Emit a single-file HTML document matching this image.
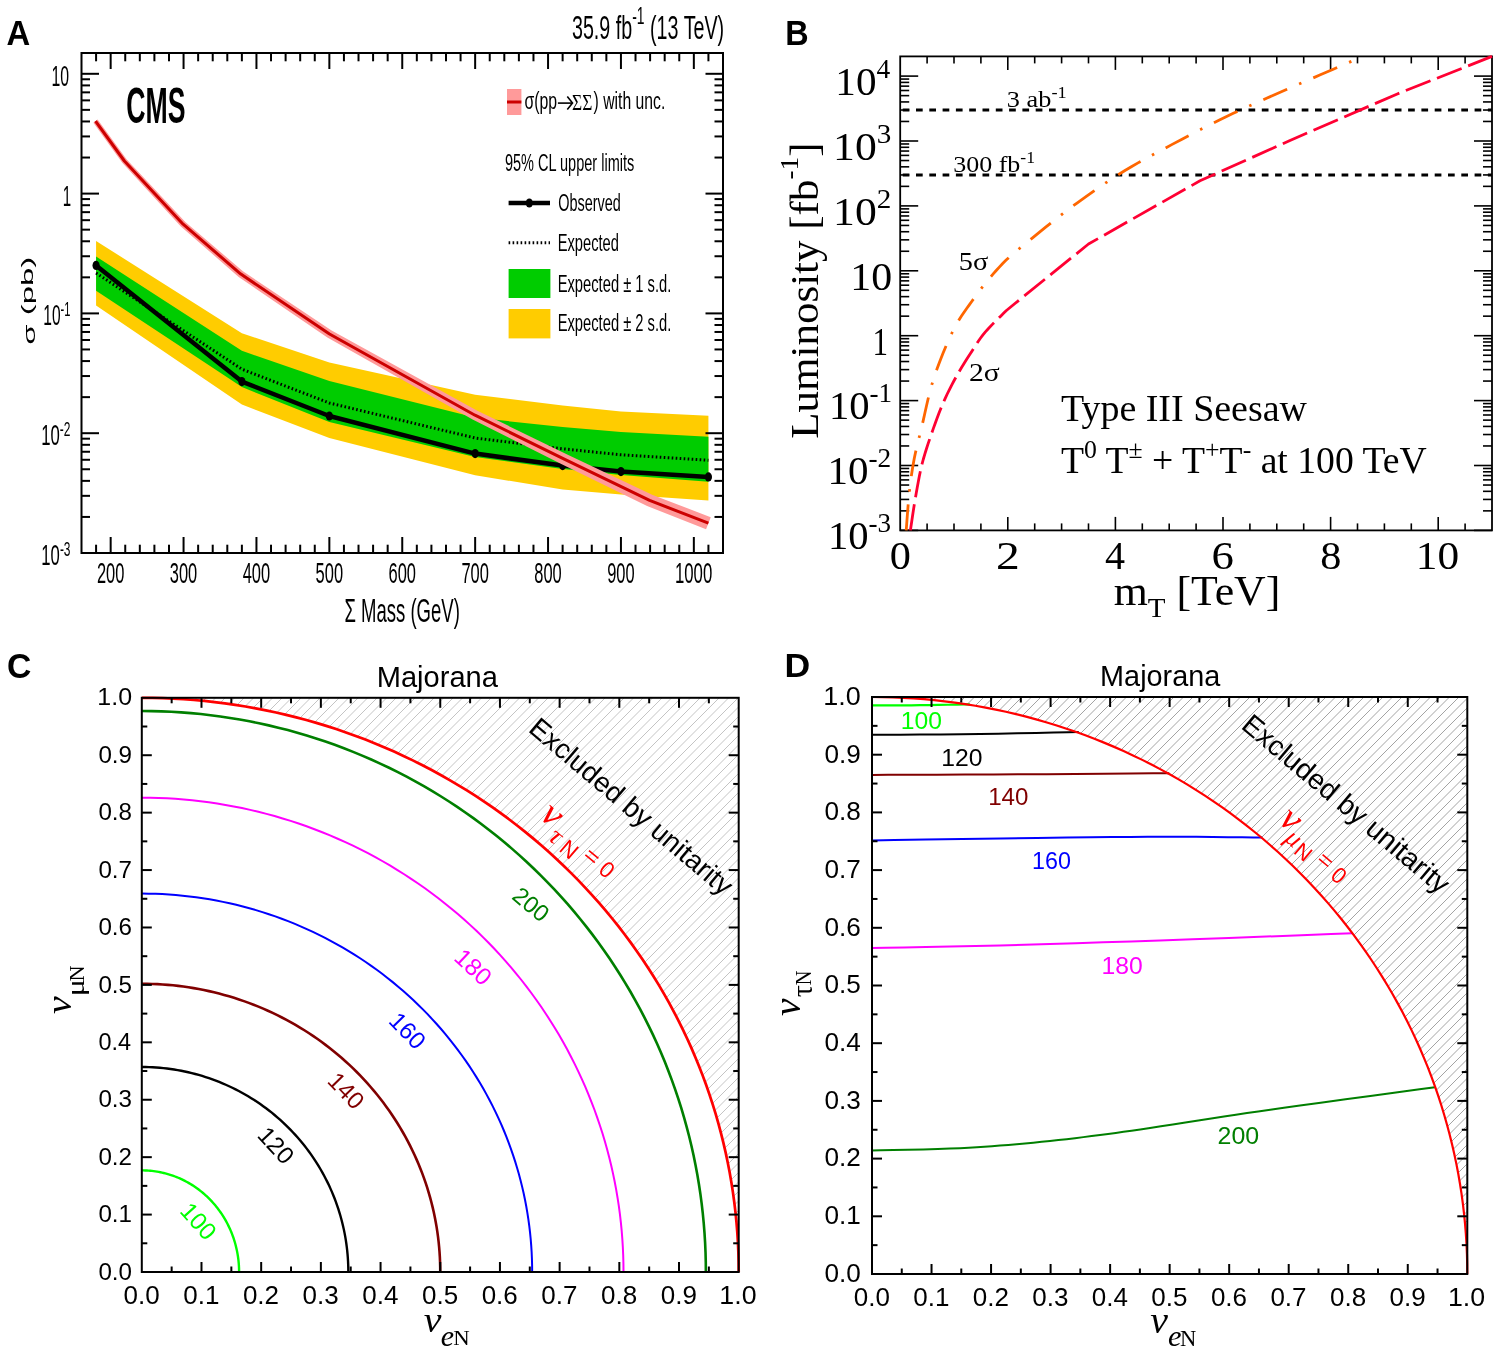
<!DOCTYPE html>
<html><head><meta charset="utf-8"><style>
html,body{margin:0;padding:0;background:#fff;width:1500px;height:1353px;overflow:hidden}
svg{display:block;will-change:transform}

</style></head><body>
<svg width="1500" height="1353" viewBox="0 0 1500 1353">
<rect x="0" y="0" width="1500" height="1353" fill="#fff"/>
<polygon points="96.08,241.00 241.88,333.20 329.35,362.40 475.15,394.80 562.62,405.60 620.94,411.60 708.42,415.70 708.42,500.40 620.94,494.40 562.62,489.60 475.15,475.20 329.35,438.00 241.88,404.50 96.08,305.50" fill="#ffcc00" stroke="none" stroke-width="0" />
<polygon points="96.08,256.40 241.88,350.80 329.35,381.00 475.15,417.60 562.62,427.00 620.94,432.00 708.42,436.80 708.42,481.70 620.94,475.00 562.62,469.00 475.15,457.00 329.35,422.00 241.88,387.10 96.08,290.80" fill="#00cc00" stroke="none" stroke-width="0" />
<polyline points="96.08,273.00 241.88,369.20 329.35,403.00 475.15,438.00 562.62,448.80 620.94,454.80 708.42,460.30" fill="none" stroke="#000" stroke-width="3" stroke-dasharray="1.6 2.4"/>
<polyline points="96.08,265.40 241.88,381.60 329.35,416.00 475.15,453.60 562.62,465.60 620.94,471.60 708.42,476.90" fill="none" stroke="#000" stroke-width="4.5" stroke-linejoin="round"/>
<ellipse cx="96.08" cy="265.40" rx="3.6" ry="4.6" fill="#000"/>
<ellipse cx="241.88" cy="381.60" rx="3.6" ry="4.6" fill="#000"/>
<ellipse cx="329.35" cy="416.00" rx="3.6" ry="4.6" fill="#000"/>
<ellipse cx="475.15" cy="453.60" rx="3.6" ry="4.6" fill="#000"/>
<ellipse cx="562.62" cy="465.60" rx="3.6" ry="4.6" fill="#000"/>
<ellipse cx="620.94" cy="471.60" rx="3.6" ry="4.6" fill="#000"/>
<ellipse cx="708.42" cy="476.90" rx="3.6" ry="4.6" fill="#000"/>
<polygon points="93.39,122.63 122.28,162.80 180.90,226.46 238.69,276.92 327.39,337.50 472.64,419.62 560.26,463.41 647.11,506.00 706.05,529.26 710.75,517.14 652.09,494.80 565.14,453.39 477.36,410.78 331.61,330.50 242.91,271.28 185.30,221.94 126.52,159.20 97.61,119.57" fill="#ff9a9a" stroke="none" stroke-width="0" />
<polyline points="95.50,121.10 124.40,161.00 183.10,224.20 240.80,274.10 329.50,334.00 475.00,415.20 562.70,458.40 649.60,500.40 708.40,523.20" fill="none" stroke="#cc0000" stroke-width="3" stroke-linejoin="round"/>
<rect x="81.50" y="53.00" width="641.50" height="500.00" fill="none" stroke="#000" stroke-width="2"/>
<line x1="96.08" y1="553.00" x2="96.08" y2="544.70" stroke="#000" stroke-width="2" />
<line x1="96.08" y1="53.00" x2="96.08" y2="61.30" stroke="#000" stroke-width="2" />
<line x1="110.66" y1="553.00" x2="110.66" y2="537.00" stroke="#000" stroke-width="2" />
<line x1="110.66" y1="53.00" x2="110.66" y2="69.00" stroke="#000" stroke-width="2" />
<line x1="125.24" y1="553.00" x2="125.24" y2="544.70" stroke="#000" stroke-width="2" />
<line x1="125.24" y1="53.00" x2="125.24" y2="61.30" stroke="#000" stroke-width="2" />
<line x1="139.82" y1="553.00" x2="139.82" y2="544.70" stroke="#000" stroke-width="2" />
<line x1="139.82" y1="53.00" x2="139.82" y2="61.30" stroke="#000" stroke-width="2" />
<line x1="154.40" y1="553.00" x2="154.40" y2="544.70" stroke="#000" stroke-width="2" />
<line x1="154.40" y1="53.00" x2="154.40" y2="61.30" stroke="#000" stroke-width="2" />
<line x1="168.98" y1="553.00" x2="168.98" y2="544.70" stroke="#000" stroke-width="2" />
<line x1="168.98" y1="53.00" x2="168.98" y2="61.30" stroke="#000" stroke-width="2" />
<line x1="183.56" y1="553.00" x2="183.56" y2="537.00" stroke="#000" stroke-width="2" />
<line x1="183.56" y1="53.00" x2="183.56" y2="69.00" stroke="#000" stroke-width="2" />
<line x1="198.14" y1="553.00" x2="198.14" y2="544.70" stroke="#000" stroke-width="2" />
<line x1="198.14" y1="53.00" x2="198.14" y2="61.30" stroke="#000" stroke-width="2" />
<line x1="212.72" y1="553.00" x2="212.72" y2="544.70" stroke="#000" stroke-width="2" />
<line x1="212.72" y1="53.00" x2="212.72" y2="61.30" stroke="#000" stroke-width="2" />
<line x1="227.30" y1="553.00" x2="227.30" y2="544.70" stroke="#000" stroke-width="2" />
<line x1="227.30" y1="53.00" x2="227.30" y2="61.30" stroke="#000" stroke-width="2" />
<line x1="241.88" y1="553.00" x2="241.88" y2="544.70" stroke="#000" stroke-width="2" />
<line x1="241.88" y1="53.00" x2="241.88" y2="61.30" stroke="#000" stroke-width="2" />
<line x1="256.45" y1="553.00" x2="256.45" y2="537.00" stroke="#000" stroke-width="2" />
<line x1="256.45" y1="53.00" x2="256.45" y2="69.00" stroke="#000" stroke-width="2" />
<line x1="271.03" y1="553.00" x2="271.03" y2="544.70" stroke="#000" stroke-width="2" />
<line x1="271.03" y1="53.00" x2="271.03" y2="61.30" stroke="#000" stroke-width="2" />
<line x1="285.61" y1="553.00" x2="285.61" y2="544.70" stroke="#000" stroke-width="2" />
<line x1="285.61" y1="53.00" x2="285.61" y2="61.30" stroke="#000" stroke-width="2" />
<line x1="300.19" y1="553.00" x2="300.19" y2="544.70" stroke="#000" stroke-width="2" />
<line x1="300.19" y1="53.00" x2="300.19" y2="61.30" stroke="#000" stroke-width="2" />
<line x1="314.77" y1="553.00" x2="314.77" y2="544.70" stroke="#000" stroke-width="2" />
<line x1="314.77" y1="53.00" x2="314.77" y2="61.30" stroke="#000" stroke-width="2" />
<line x1="329.35" y1="553.00" x2="329.35" y2="537.00" stroke="#000" stroke-width="2" />
<line x1="329.35" y1="53.00" x2="329.35" y2="69.00" stroke="#000" stroke-width="2" />
<line x1="343.93" y1="553.00" x2="343.93" y2="544.70" stroke="#000" stroke-width="2" />
<line x1="343.93" y1="53.00" x2="343.93" y2="61.30" stroke="#000" stroke-width="2" />
<line x1="358.51" y1="553.00" x2="358.51" y2="544.70" stroke="#000" stroke-width="2" />
<line x1="358.51" y1="53.00" x2="358.51" y2="61.30" stroke="#000" stroke-width="2" />
<line x1="373.09" y1="553.00" x2="373.09" y2="544.70" stroke="#000" stroke-width="2" />
<line x1="373.09" y1="53.00" x2="373.09" y2="61.30" stroke="#000" stroke-width="2" />
<line x1="387.67" y1="553.00" x2="387.67" y2="544.70" stroke="#000" stroke-width="2" />
<line x1="387.67" y1="53.00" x2="387.67" y2="61.30" stroke="#000" stroke-width="2" />
<line x1="402.25" y1="553.00" x2="402.25" y2="537.00" stroke="#000" stroke-width="2" />
<line x1="402.25" y1="53.00" x2="402.25" y2="69.00" stroke="#000" stroke-width="2" />
<line x1="416.83" y1="553.00" x2="416.83" y2="544.70" stroke="#000" stroke-width="2" />
<line x1="416.83" y1="53.00" x2="416.83" y2="61.30" stroke="#000" stroke-width="2" />
<line x1="431.41" y1="553.00" x2="431.41" y2="544.70" stroke="#000" stroke-width="2" />
<line x1="431.41" y1="53.00" x2="431.41" y2="61.30" stroke="#000" stroke-width="2" />
<line x1="445.99" y1="553.00" x2="445.99" y2="544.70" stroke="#000" stroke-width="2" />
<line x1="445.99" y1="53.00" x2="445.99" y2="61.30" stroke="#000" stroke-width="2" />
<line x1="460.57" y1="553.00" x2="460.57" y2="544.70" stroke="#000" stroke-width="2" />
<line x1="460.57" y1="53.00" x2="460.57" y2="61.30" stroke="#000" stroke-width="2" />
<line x1="475.15" y1="553.00" x2="475.15" y2="537.00" stroke="#000" stroke-width="2" />
<line x1="475.15" y1="53.00" x2="475.15" y2="69.00" stroke="#000" stroke-width="2" />
<line x1="489.73" y1="553.00" x2="489.73" y2="544.70" stroke="#000" stroke-width="2" />
<line x1="489.73" y1="53.00" x2="489.73" y2="61.30" stroke="#000" stroke-width="2" />
<line x1="504.31" y1="553.00" x2="504.31" y2="544.70" stroke="#000" stroke-width="2" />
<line x1="504.31" y1="53.00" x2="504.31" y2="61.30" stroke="#000" stroke-width="2" />
<line x1="518.89" y1="553.00" x2="518.89" y2="544.70" stroke="#000" stroke-width="2" />
<line x1="518.89" y1="53.00" x2="518.89" y2="61.30" stroke="#000" stroke-width="2" />
<line x1="533.47" y1="553.00" x2="533.47" y2="544.70" stroke="#000" stroke-width="2" />
<line x1="533.47" y1="53.00" x2="533.47" y2="61.30" stroke="#000" stroke-width="2" />
<line x1="548.05" y1="553.00" x2="548.05" y2="537.00" stroke="#000" stroke-width="2" />
<line x1="548.05" y1="53.00" x2="548.05" y2="69.00" stroke="#000" stroke-width="2" />
<line x1="562.62" y1="553.00" x2="562.62" y2="544.70" stroke="#000" stroke-width="2" />
<line x1="562.62" y1="53.00" x2="562.62" y2="61.30" stroke="#000" stroke-width="2" />
<line x1="577.20" y1="553.00" x2="577.20" y2="544.70" stroke="#000" stroke-width="2" />
<line x1="577.20" y1="53.00" x2="577.20" y2="61.30" stroke="#000" stroke-width="2" />
<line x1="591.78" y1="553.00" x2="591.78" y2="544.70" stroke="#000" stroke-width="2" />
<line x1="591.78" y1="53.00" x2="591.78" y2="61.30" stroke="#000" stroke-width="2" />
<line x1="606.36" y1="553.00" x2="606.36" y2="544.70" stroke="#000" stroke-width="2" />
<line x1="606.36" y1="53.00" x2="606.36" y2="61.30" stroke="#000" stroke-width="2" />
<line x1="620.94" y1="553.00" x2="620.94" y2="537.00" stroke="#000" stroke-width="2" />
<line x1="620.94" y1="53.00" x2="620.94" y2="69.00" stroke="#000" stroke-width="2" />
<line x1="635.52" y1="553.00" x2="635.52" y2="544.70" stroke="#000" stroke-width="2" />
<line x1="635.52" y1="53.00" x2="635.52" y2="61.30" stroke="#000" stroke-width="2" />
<line x1="650.10" y1="553.00" x2="650.10" y2="544.70" stroke="#000" stroke-width="2" />
<line x1="650.10" y1="53.00" x2="650.10" y2="61.30" stroke="#000" stroke-width="2" />
<line x1="664.68" y1="553.00" x2="664.68" y2="544.70" stroke="#000" stroke-width="2" />
<line x1="664.68" y1="53.00" x2="664.68" y2="61.30" stroke="#000" stroke-width="2" />
<line x1="679.26" y1="553.00" x2="679.26" y2="544.70" stroke="#000" stroke-width="2" />
<line x1="679.26" y1="53.00" x2="679.26" y2="61.30" stroke="#000" stroke-width="2" />
<line x1="693.84" y1="553.00" x2="693.84" y2="537.00" stroke="#000" stroke-width="2" />
<line x1="693.84" y1="53.00" x2="693.84" y2="69.00" stroke="#000" stroke-width="2" />
<line x1="708.42" y1="553.00" x2="708.42" y2="544.70" stroke="#000" stroke-width="2" />
<line x1="708.42" y1="53.00" x2="708.42" y2="61.30" stroke="#000" stroke-width="2" />
<line x1="81.50" y1="516.94" x2="90.00" y2="516.94" stroke="#000" stroke-width="2" />
<line x1="723.00" y1="516.94" x2="714.50" y2="516.94" stroke="#000" stroke-width="2" />
<line x1="81.50" y1="495.84" x2="90.00" y2="495.84" stroke="#000" stroke-width="2" />
<line x1="723.00" y1="495.84" x2="714.50" y2="495.84" stroke="#000" stroke-width="2" />
<line x1="81.50" y1="480.87" x2="90.00" y2="480.87" stroke="#000" stroke-width="2" />
<line x1="723.00" y1="480.87" x2="714.50" y2="480.87" stroke="#000" stroke-width="2" />
<line x1="81.50" y1="469.26" x2="90.00" y2="469.26" stroke="#000" stroke-width="2" />
<line x1="723.00" y1="469.26" x2="714.50" y2="469.26" stroke="#000" stroke-width="2" />
<line x1="81.50" y1="459.78" x2="90.00" y2="459.78" stroke="#000" stroke-width="2" />
<line x1="723.00" y1="459.78" x2="714.50" y2="459.78" stroke="#000" stroke-width="2" />
<line x1="81.50" y1="451.76" x2="90.00" y2="451.76" stroke="#000" stroke-width="2" />
<line x1="723.00" y1="451.76" x2="714.50" y2="451.76" stroke="#000" stroke-width="2" />
<line x1="81.50" y1="444.81" x2="90.00" y2="444.81" stroke="#000" stroke-width="2" />
<line x1="723.00" y1="444.81" x2="714.50" y2="444.81" stroke="#000" stroke-width="2" />
<line x1="81.50" y1="438.68" x2="90.00" y2="438.68" stroke="#000" stroke-width="2" />
<line x1="723.00" y1="438.68" x2="714.50" y2="438.68" stroke="#000" stroke-width="2" />
<line x1="81.50" y1="433.20" x2="99.00" y2="433.20" stroke="#000" stroke-width="2" />
<line x1="723.00" y1="433.20" x2="705.50" y2="433.20" stroke="#000" stroke-width="2" />
<line x1="81.50" y1="397.14" x2="90.00" y2="397.14" stroke="#000" stroke-width="2" />
<line x1="723.00" y1="397.14" x2="714.50" y2="397.14" stroke="#000" stroke-width="2" />
<line x1="81.50" y1="376.04" x2="90.00" y2="376.04" stroke="#000" stroke-width="2" />
<line x1="723.00" y1="376.04" x2="714.50" y2="376.04" stroke="#000" stroke-width="2" />
<line x1="81.50" y1="361.07" x2="90.00" y2="361.07" stroke="#000" stroke-width="2" />
<line x1="723.00" y1="361.07" x2="714.50" y2="361.07" stroke="#000" stroke-width="2" />
<line x1="81.50" y1="349.46" x2="90.00" y2="349.46" stroke="#000" stroke-width="2" />
<line x1="723.00" y1="349.46" x2="714.50" y2="349.46" stroke="#000" stroke-width="2" />
<line x1="81.50" y1="339.98" x2="90.00" y2="339.98" stroke="#000" stroke-width="2" />
<line x1="723.00" y1="339.98" x2="714.50" y2="339.98" stroke="#000" stroke-width="2" />
<line x1="81.50" y1="331.96" x2="90.00" y2="331.96" stroke="#000" stroke-width="2" />
<line x1="723.00" y1="331.96" x2="714.50" y2="331.96" stroke="#000" stroke-width="2" />
<line x1="81.50" y1="325.01" x2="90.00" y2="325.01" stroke="#000" stroke-width="2" />
<line x1="723.00" y1="325.01" x2="714.50" y2="325.01" stroke="#000" stroke-width="2" />
<line x1="81.50" y1="318.88" x2="90.00" y2="318.88" stroke="#000" stroke-width="2" />
<line x1="723.00" y1="318.88" x2="714.50" y2="318.88" stroke="#000" stroke-width="2" />
<line x1="81.50" y1="313.40" x2="99.00" y2="313.40" stroke="#000" stroke-width="2" />
<line x1="723.00" y1="313.40" x2="705.50" y2="313.40" stroke="#000" stroke-width="2" />
<line x1="81.50" y1="277.34" x2="90.00" y2="277.34" stroke="#000" stroke-width="2" />
<line x1="723.00" y1="277.34" x2="714.50" y2="277.34" stroke="#000" stroke-width="2" />
<line x1="81.50" y1="256.24" x2="90.00" y2="256.24" stroke="#000" stroke-width="2" />
<line x1="723.00" y1="256.24" x2="714.50" y2="256.24" stroke="#000" stroke-width="2" />
<line x1="81.50" y1="241.27" x2="90.00" y2="241.27" stroke="#000" stroke-width="2" />
<line x1="723.00" y1="241.27" x2="714.50" y2="241.27" stroke="#000" stroke-width="2" />
<line x1="81.50" y1="229.66" x2="90.00" y2="229.66" stroke="#000" stroke-width="2" />
<line x1="723.00" y1="229.66" x2="714.50" y2="229.66" stroke="#000" stroke-width="2" />
<line x1="81.50" y1="220.18" x2="90.00" y2="220.18" stroke="#000" stroke-width="2" />
<line x1="723.00" y1="220.18" x2="714.50" y2="220.18" stroke="#000" stroke-width="2" />
<line x1="81.50" y1="212.16" x2="90.00" y2="212.16" stroke="#000" stroke-width="2" />
<line x1="723.00" y1="212.16" x2="714.50" y2="212.16" stroke="#000" stroke-width="2" />
<line x1="81.50" y1="205.21" x2="90.00" y2="205.21" stroke="#000" stroke-width="2" />
<line x1="723.00" y1="205.21" x2="714.50" y2="205.21" stroke="#000" stroke-width="2" />
<line x1="81.50" y1="199.08" x2="90.00" y2="199.08" stroke="#000" stroke-width="2" />
<line x1="723.00" y1="199.08" x2="714.50" y2="199.08" stroke="#000" stroke-width="2" />
<line x1="81.50" y1="193.60" x2="99.00" y2="193.60" stroke="#000" stroke-width="2" />
<line x1="723.00" y1="193.60" x2="705.50" y2="193.60" stroke="#000" stroke-width="2" />
<line x1="81.50" y1="157.54" x2="90.00" y2="157.54" stroke="#000" stroke-width="2" />
<line x1="723.00" y1="157.54" x2="714.50" y2="157.54" stroke="#000" stroke-width="2" />
<line x1="81.50" y1="136.44" x2="90.00" y2="136.44" stroke="#000" stroke-width="2" />
<line x1="723.00" y1="136.44" x2="714.50" y2="136.44" stroke="#000" stroke-width="2" />
<line x1="81.50" y1="121.47" x2="90.00" y2="121.47" stroke="#000" stroke-width="2" />
<line x1="723.00" y1="121.47" x2="714.50" y2="121.47" stroke="#000" stroke-width="2" />
<line x1="81.50" y1="109.86" x2="90.00" y2="109.86" stroke="#000" stroke-width="2" />
<line x1="723.00" y1="109.86" x2="714.50" y2="109.86" stroke="#000" stroke-width="2" />
<line x1="81.50" y1="100.38" x2="90.00" y2="100.38" stroke="#000" stroke-width="2" />
<line x1="723.00" y1="100.38" x2="714.50" y2="100.38" stroke="#000" stroke-width="2" />
<line x1="81.50" y1="92.36" x2="90.00" y2="92.36" stroke="#000" stroke-width="2" />
<line x1="723.00" y1="92.36" x2="714.50" y2="92.36" stroke="#000" stroke-width="2" />
<line x1="81.50" y1="85.41" x2="90.00" y2="85.41" stroke="#000" stroke-width="2" />
<line x1="723.00" y1="85.41" x2="714.50" y2="85.41" stroke="#000" stroke-width="2" />
<line x1="81.50" y1="79.28" x2="90.00" y2="79.28" stroke="#000" stroke-width="2" />
<line x1="723.00" y1="79.28" x2="714.50" y2="79.28" stroke="#000" stroke-width="2" />
<line x1="81.50" y1="73.80" x2="99.00" y2="73.80" stroke="#000" stroke-width="2" />
<line x1="723.00" y1="73.80" x2="705.50" y2="73.80" stroke="#000" stroke-width="2" />
<rect x="507" y="89" width="14.4" height="26" fill="#ff9a9a"/>
<line x1="507.00" y1="102.00" x2="521.40" y2="102.00" stroke="#cc0000" stroke-width="3" />
<line x1="508.60" y1="203.00" x2="550.00" y2="203.00" stroke="#000" stroke-width="4.5" />
<ellipse cx="529.3" cy="203" rx="3.6" ry="4.6" fill="#000"/>
<line x1="508.60" y1="242.80" x2="550.00" y2="242.80" stroke="#000" stroke-width="3" stroke-dasharray="1.6 2.4"/>
<rect x="508.6" y="269" width="41.8" height="29" fill="#00cc00"/>
<rect x="508.6" y="309" width="41.8" height="29.4" fill="#ffcc00"/>
<line x1="557.90" y1="103.10" x2="572.00" y2="103.10" stroke="#000" stroke-width="1.6" />
<path d="M567.3,96.6 L572.5,103.1 L567.3,109.6" fill="none" stroke="#000" stroke-width="1.6" stroke-linejoin="miter"/>
<rect x="900.20" y="56.40" width="591.80" height="474.00" fill="none" stroke="#000" stroke-width="1.8"/>
<line x1="927.10" y1="530.40" x2="927.10" y2="523.40" stroke="#000" stroke-width="1.6" />
<line x1="927.10" y1="56.40" x2="927.10" y2="63.40" stroke="#000" stroke-width="1.6" />
<line x1="954.00" y1="530.40" x2="954.00" y2="523.40" stroke="#000" stroke-width="1.6" />
<line x1="954.00" y1="56.40" x2="954.00" y2="63.40" stroke="#000" stroke-width="1.6" />
<line x1="980.90" y1="530.40" x2="980.90" y2="523.40" stroke="#000" stroke-width="1.6" />
<line x1="980.90" y1="56.40" x2="980.90" y2="63.40" stroke="#000" stroke-width="1.6" />
<line x1="1007.80" y1="530.40" x2="1007.80" y2="516.90" stroke="#000" stroke-width="1.6" />
<line x1="1007.80" y1="56.40" x2="1007.80" y2="69.90" stroke="#000" stroke-width="1.6" />
<line x1="1034.70" y1="530.40" x2="1034.70" y2="523.40" stroke="#000" stroke-width="1.6" />
<line x1="1034.70" y1="56.40" x2="1034.70" y2="63.40" stroke="#000" stroke-width="1.6" />
<line x1="1061.60" y1="530.40" x2="1061.60" y2="523.40" stroke="#000" stroke-width="1.6" />
<line x1="1061.60" y1="56.40" x2="1061.60" y2="63.40" stroke="#000" stroke-width="1.6" />
<line x1="1088.50" y1="530.40" x2="1088.50" y2="523.40" stroke="#000" stroke-width="1.6" />
<line x1="1088.50" y1="56.40" x2="1088.50" y2="63.40" stroke="#000" stroke-width="1.6" />
<line x1="1115.40" y1="530.40" x2="1115.40" y2="516.90" stroke="#000" stroke-width="1.6" />
<line x1="1115.40" y1="56.40" x2="1115.40" y2="69.90" stroke="#000" stroke-width="1.6" />
<line x1="1142.30" y1="530.40" x2="1142.30" y2="523.40" stroke="#000" stroke-width="1.6" />
<line x1="1142.30" y1="56.40" x2="1142.30" y2="63.40" stroke="#000" stroke-width="1.6" />
<line x1="1169.20" y1="530.40" x2="1169.20" y2="523.40" stroke="#000" stroke-width="1.6" />
<line x1="1169.20" y1="56.40" x2="1169.20" y2="63.40" stroke="#000" stroke-width="1.6" />
<line x1="1196.10" y1="530.40" x2="1196.10" y2="523.40" stroke="#000" stroke-width="1.6" />
<line x1="1196.10" y1="56.40" x2="1196.10" y2="63.40" stroke="#000" stroke-width="1.6" />
<line x1="1223.00" y1="530.40" x2="1223.00" y2="516.90" stroke="#000" stroke-width="1.6" />
<line x1="1223.00" y1="56.40" x2="1223.00" y2="69.90" stroke="#000" stroke-width="1.6" />
<line x1="1249.90" y1="530.40" x2="1249.90" y2="523.40" stroke="#000" stroke-width="1.6" />
<line x1="1249.90" y1="56.40" x2="1249.90" y2="63.40" stroke="#000" stroke-width="1.6" />
<line x1="1276.80" y1="530.40" x2="1276.80" y2="523.40" stroke="#000" stroke-width="1.6" />
<line x1="1276.80" y1="56.40" x2="1276.80" y2="63.40" stroke="#000" stroke-width="1.6" />
<line x1="1303.70" y1="530.40" x2="1303.70" y2="523.40" stroke="#000" stroke-width="1.6" />
<line x1="1303.70" y1="56.40" x2="1303.70" y2="63.40" stroke="#000" stroke-width="1.6" />
<line x1="1330.60" y1="530.40" x2="1330.60" y2="516.90" stroke="#000" stroke-width="1.6" />
<line x1="1330.60" y1="56.40" x2="1330.60" y2="69.90" stroke="#000" stroke-width="1.6" />
<line x1="1357.50" y1="530.40" x2="1357.50" y2="523.40" stroke="#000" stroke-width="1.6" />
<line x1="1357.50" y1="56.40" x2="1357.50" y2="63.40" stroke="#000" stroke-width="1.6" />
<line x1="1384.40" y1="530.40" x2="1384.40" y2="523.40" stroke="#000" stroke-width="1.6" />
<line x1="1384.40" y1="56.40" x2="1384.40" y2="63.40" stroke="#000" stroke-width="1.6" />
<line x1="1411.30" y1="530.40" x2="1411.30" y2="523.40" stroke="#000" stroke-width="1.6" />
<line x1="1411.30" y1="56.40" x2="1411.30" y2="63.40" stroke="#000" stroke-width="1.6" />
<line x1="1438.20" y1="530.40" x2="1438.20" y2="516.90" stroke="#000" stroke-width="1.6" />
<line x1="1438.20" y1="56.40" x2="1438.20" y2="69.90" stroke="#000" stroke-width="1.6" />
<line x1="1465.10" y1="530.40" x2="1465.10" y2="523.40" stroke="#000" stroke-width="1.6" />
<line x1="1465.10" y1="56.40" x2="1465.10" y2="63.40" stroke="#000" stroke-width="1.6" />
<line x1="900.20" y1="530.40" x2="918.20" y2="530.40" stroke="#000" stroke-width="1.6" />
<line x1="1492.00" y1="530.40" x2="1474.00" y2="530.40" stroke="#000" stroke-width="1.6" />
<line x1="900.20" y1="510.86" x2="909.20" y2="510.86" stroke="#000" stroke-width="1.6" />
<line x1="1492.00" y1="510.86" x2="1483.00" y2="510.86" stroke="#000" stroke-width="1.6" />
<line x1="900.20" y1="499.43" x2="909.20" y2="499.43" stroke="#000" stroke-width="1.6" />
<line x1="1492.00" y1="499.43" x2="1483.00" y2="499.43" stroke="#000" stroke-width="1.6" />
<line x1="900.20" y1="491.33" x2="909.20" y2="491.33" stroke="#000" stroke-width="1.6" />
<line x1="1492.00" y1="491.33" x2="1483.00" y2="491.33" stroke="#000" stroke-width="1.6" />
<line x1="900.20" y1="485.04" x2="909.20" y2="485.04" stroke="#000" stroke-width="1.6" />
<line x1="1492.00" y1="485.04" x2="1483.00" y2="485.04" stroke="#000" stroke-width="1.6" />
<line x1="900.20" y1="479.90" x2="909.20" y2="479.90" stroke="#000" stroke-width="1.6" />
<line x1="1492.00" y1="479.90" x2="1483.00" y2="479.90" stroke="#000" stroke-width="1.6" />
<line x1="900.20" y1="475.55" x2="909.20" y2="475.55" stroke="#000" stroke-width="1.6" />
<line x1="1492.00" y1="475.55" x2="1483.00" y2="475.55" stroke="#000" stroke-width="1.6" />
<line x1="900.20" y1="471.79" x2="909.20" y2="471.79" stroke="#000" stroke-width="1.6" />
<line x1="1492.00" y1="471.79" x2="1483.00" y2="471.79" stroke="#000" stroke-width="1.6" />
<line x1="900.20" y1="468.47" x2="909.20" y2="468.47" stroke="#000" stroke-width="1.6" />
<line x1="1492.00" y1="468.47" x2="1483.00" y2="468.47" stroke="#000" stroke-width="1.6" />
<line x1="900.20" y1="465.50" x2="918.20" y2="465.50" stroke="#000" stroke-width="1.6" />
<line x1="1492.00" y1="465.50" x2="1474.00" y2="465.50" stroke="#000" stroke-width="1.6" />
<line x1="900.20" y1="445.96" x2="909.20" y2="445.96" stroke="#000" stroke-width="1.6" />
<line x1="1492.00" y1="445.96" x2="1483.00" y2="445.96" stroke="#000" stroke-width="1.6" />
<line x1="900.20" y1="434.53" x2="909.20" y2="434.53" stroke="#000" stroke-width="1.6" />
<line x1="1492.00" y1="434.53" x2="1483.00" y2="434.53" stroke="#000" stroke-width="1.6" />
<line x1="900.20" y1="426.43" x2="909.20" y2="426.43" stroke="#000" stroke-width="1.6" />
<line x1="1492.00" y1="426.43" x2="1483.00" y2="426.43" stroke="#000" stroke-width="1.6" />
<line x1="900.20" y1="420.14" x2="909.20" y2="420.14" stroke="#000" stroke-width="1.6" />
<line x1="1492.00" y1="420.14" x2="1483.00" y2="420.14" stroke="#000" stroke-width="1.6" />
<line x1="900.20" y1="415.00" x2="909.20" y2="415.00" stroke="#000" stroke-width="1.6" />
<line x1="1492.00" y1="415.00" x2="1483.00" y2="415.00" stroke="#000" stroke-width="1.6" />
<line x1="900.20" y1="410.65" x2="909.20" y2="410.65" stroke="#000" stroke-width="1.6" />
<line x1="1492.00" y1="410.65" x2="1483.00" y2="410.65" stroke="#000" stroke-width="1.6" />
<line x1="900.20" y1="406.89" x2="909.20" y2="406.89" stroke="#000" stroke-width="1.6" />
<line x1="1492.00" y1="406.89" x2="1483.00" y2="406.89" stroke="#000" stroke-width="1.6" />
<line x1="900.20" y1="403.57" x2="909.20" y2="403.57" stroke="#000" stroke-width="1.6" />
<line x1="1492.00" y1="403.57" x2="1483.00" y2="403.57" stroke="#000" stroke-width="1.6" />
<line x1="900.20" y1="400.60" x2="918.20" y2="400.60" stroke="#000" stroke-width="1.6" />
<line x1="1492.00" y1="400.60" x2="1474.00" y2="400.60" stroke="#000" stroke-width="1.6" />
<line x1="900.20" y1="381.06" x2="909.20" y2="381.06" stroke="#000" stroke-width="1.6" />
<line x1="1492.00" y1="381.06" x2="1483.00" y2="381.06" stroke="#000" stroke-width="1.6" />
<line x1="900.20" y1="369.63" x2="909.20" y2="369.63" stroke="#000" stroke-width="1.6" />
<line x1="1492.00" y1="369.63" x2="1483.00" y2="369.63" stroke="#000" stroke-width="1.6" />
<line x1="900.20" y1="361.53" x2="909.20" y2="361.53" stroke="#000" stroke-width="1.6" />
<line x1="1492.00" y1="361.53" x2="1483.00" y2="361.53" stroke="#000" stroke-width="1.6" />
<line x1="900.20" y1="355.24" x2="909.20" y2="355.24" stroke="#000" stroke-width="1.6" />
<line x1="1492.00" y1="355.24" x2="1483.00" y2="355.24" stroke="#000" stroke-width="1.6" />
<line x1="900.20" y1="350.10" x2="909.20" y2="350.10" stroke="#000" stroke-width="1.6" />
<line x1="1492.00" y1="350.10" x2="1483.00" y2="350.10" stroke="#000" stroke-width="1.6" />
<line x1="900.20" y1="345.75" x2="909.20" y2="345.75" stroke="#000" stroke-width="1.6" />
<line x1="1492.00" y1="345.75" x2="1483.00" y2="345.75" stroke="#000" stroke-width="1.6" />
<line x1="900.20" y1="341.99" x2="909.20" y2="341.99" stroke="#000" stroke-width="1.6" />
<line x1="1492.00" y1="341.99" x2="1483.00" y2="341.99" stroke="#000" stroke-width="1.6" />
<line x1="900.20" y1="338.67" x2="909.20" y2="338.67" stroke="#000" stroke-width="1.6" />
<line x1="1492.00" y1="338.67" x2="1483.00" y2="338.67" stroke="#000" stroke-width="1.6" />
<line x1="900.20" y1="335.70" x2="918.20" y2="335.70" stroke="#000" stroke-width="1.6" />
<line x1="1492.00" y1="335.70" x2="1474.00" y2="335.70" stroke="#000" stroke-width="1.6" />
<line x1="900.20" y1="316.16" x2="909.20" y2="316.16" stroke="#000" stroke-width="1.6" />
<line x1="1492.00" y1="316.16" x2="1483.00" y2="316.16" stroke="#000" stroke-width="1.6" />
<line x1="900.20" y1="304.73" x2="909.20" y2="304.73" stroke="#000" stroke-width="1.6" />
<line x1="1492.00" y1="304.73" x2="1483.00" y2="304.73" stroke="#000" stroke-width="1.6" />
<line x1="900.20" y1="296.63" x2="909.20" y2="296.63" stroke="#000" stroke-width="1.6" />
<line x1="1492.00" y1="296.63" x2="1483.00" y2="296.63" stroke="#000" stroke-width="1.6" />
<line x1="900.20" y1="290.34" x2="909.20" y2="290.34" stroke="#000" stroke-width="1.6" />
<line x1="1492.00" y1="290.34" x2="1483.00" y2="290.34" stroke="#000" stroke-width="1.6" />
<line x1="900.20" y1="285.20" x2="909.20" y2="285.20" stroke="#000" stroke-width="1.6" />
<line x1="1492.00" y1="285.20" x2="1483.00" y2="285.20" stroke="#000" stroke-width="1.6" />
<line x1="900.20" y1="280.85" x2="909.20" y2="280.85" stroke="#000" stroke-width="1.6" />
<line x1="1492.00" y1="280.85" x2="1483.00" y2="280.85" stroke="#000" stroke-width="1.6" />
<line x1="900.20" y1="277.09" x2="909.20" y2="277.09" stroke="#000" stroke-width="1.6" />
<line x1="1492.00" y1="277.09" x2="1483.00" y2="277.09" stroke="#000" stroke-width="1.6" />
<line x1="900.20" y1="273.77" x2="909.20" y2="273.77" stroke="#000" stroke-width="1.6" />
<line x1="1492.00" y1="273.77" x2="1483.00" y2="273.77" stroke="#000" stroke-width="1.6" />
<line x1="900.20" y1="270.80" x2="918.20" y2="270.80" stroke="#000" stroke-width="1.6" />
<line x1="1492.00" y1="270.80" x2="1474.00" y2="270.80" stroke="#000" stroke-width="1.6" />
<line x1="900.20" y1="251.26" x2="909.20" y2="251.26" stroke="#000" stroke-width="1.6" />
<line x1="1492.00" y1="251.26" x2="1483.00" y2="251.26" stroke="#000" stroke-width="1.6" />
<line x1="900.20" y1="239.83" x2="909.20" y2="239.83" stroke="#000" stroke-width="1.6" />
<line x1="1492.00" y1="239.83" x2="1483.00" y2="239.83" stroke="#000" stroke-width="1.6" />
<line x1="900.20" y1="231.73" x2="909.20" y2="231.73" stroke="#000" stroke-width="1.6" />
<line x1="1492.00" y1="231.73" x2="1483.00" y2="231.73" stroke="#000" stroke-width="1.6" />
<line x1="900.20" y1="225.44" x2="909.20" y2="225.44" stroke="#000" stroke-width="1.6" />
<line x1="1492.00" y1="225.44" x2="1483.00" y2="225.44" stroke="#000" stroke-width="1.6" />
<line x1="900.20" y1="220.30" x2="909.20" y2="220.30" stroke="#000" stroke-width="1.6" />
<line x1="1492.00" y1="220.30" x2="1483.00" y2="220.30" stroke="#000" stroke-width="1.6" />
<line x1="900.20" y1="215.95" x2="909.20" y2="215.95" stroke="#000" stroke-width="1.6" />
<line x1="1492.00" y1="215.95" x2="1483.00" y2="215.95" stroke="#000" stroke-width="1.6" />
<line x1="900.20" y1="212.19" x2="909.20" y2="212.19" stroke="#000" stroke-width="1.6" />
<line x1="1492.00" y1="212.19" x2="1483.00" y2="212.19" stroke="#000" stroke-width="1.6" />
<line x1="900.20" y1="208.87" x2="909.20" y2="208.87" stroke="#000" stroke-width="1.6" />
<line x1="1492.00" y1="208.87" x2="1483.00" y2="208.87" stroke="#000" stroke-width="1.6" />
<line x1="900.20" y1="205.90" x2="918.20" y2="205.90" stroke="#000" stroke-width="1.6" />
<line x1="1492.00" y1="205.90" x2="1474.00" y2="205.90" stroke="#000" stroke-width="1.6" />
<line x1="900.20" y1="186.36" x2="909.20" y2="186.36" stroke="#000" stroke-width="1.6" />
<line x1="1492.00" y1="186.36" x2="1483.00" y2="186.36" stroke="#000" stroke-width="1.6" />
<line x1="900.20" y1="174.93" x2="909.20" y2="174.93" stroke="#000" stroke-width="1.6" />
<line x1="1492.00" y1="174.93" x2="1483.00" y2="174.93" stroke="#000" stroke-width="1.6" />
<line x1="900.20" y1="166.83" x2="909.20" y2="166.83" stroke="#000" stroke-width="1.6" />
<line x1="1492.00" y1="166.83" x2="1483.00" y2="166.83" stroke="#000" stroke-width="1.6" />
<line x1="900.20" y1="160.54" x2="909.20" y2="160.54" stroke="#000" stroke-width="1.6" />
<line x1="1492.00" y1="160.54" x2="1483.00" y2="160.54" stroke="#000" stroke-width="1.6" />
<line x1="900.20" y1="155.40" x2="909.20" y2="155.40" stroke="#000" stroke-width="1.6" />
<line x1="1492.00" y1="155.40" x2="1483.00" y2="155.40" stroke="#000" stroke-width="1.6" />
<line x1="900.20" y1="151.05" x2="909.20" y2="151.05" stroke="#000" stroke-width="1.6" />
<line x1="1492.00" y1="151.05" x2="1483.00" y2="151.05" stroke="#000" stroke-width="1.6" />
<line x1="900.20" y1="147.29" x2="909.20" y2="147.29" stroke="#000" stroke-width="1.6" />
<line x1="1492.00" y1="147.29" x2="1483.00" y2="147.29" stroke="#000" stroke-width="1.6" />
<line x1="900.20" y1="143.97" x2="909.20" y2="143.97" stroke="#000" stroke-width="1.6" />
<line x1="1492.00" y1="143.97" x2="1483.00" y2="143.97" stroke="#000" stroke-width="1.6" />
<line x1="900.20" y1="141.00" x2="918.20" y2="141.00" stroke="#000" stroke-width="1.6" />
<line x1="1492.00" y1="141.00" x2="1474.00" y2="141.00" stroke="#000" stroke-width="1.6" />
<line x1="900.20" y1="121.46" x2="909.20" y2="121.46" stroke="#000" stroke-width="1.6" />
<line x1="1492.00" y1="121.46" x2="1483.00" y2="121.46" stroke="#000" stroke-width="1.6" />
<line x1="900.20" y1="110.03" x2="909.20" y2="110.03" stroke="#000" stroke-width="1.6" />
<line x1="1492.00" y1="110.03" x2="1483.00" y2="110.03" stroke="#000" stroke-width="1.6" />
<line x1="900.20" y1="101.93" x2="909.20" y2="101.93" stroke="#000" stroke-width="1.6" />
<line x1="1492.00" y1="101.93" x2="1483.00" y2="101.93" stroke="#000" stroke-width="1.6" />
<line x1="900.20" y1="95.64" x2="909.20" y2="95.64" stroke="#000" stroke-width="1.6" />
<line x1="1492.00" y1="95.64" x2="1483.00" y2="95.64" stroke="#000" stroke-width="1.6" />
<line x1="900.20" y1="90.50" x2="909.20" y2="90.50" stroke="#000" stroke-width="1.6" />
<line x1="1492.00" y1="90.50" x2="1483.00" y2="90.50" stroke="#000" stroke-width="1.6" />
<line x1="900.20" y1="86.15" x2="909.20" y2="86.15" stroke="#000" stroke-width="1.6" />
<line x1="1492.00" y1="86.15" x2="1483.00" y2="86.15" stroke="#000" stroke-width="1.6" />
<line x1="900.20" y1="82.39" x2="909.20" y2="82.39" stroke="#000" stroke-width="1.6" />
<line x1="1492.00" y1="82.39" x2="1483.00" y2="82.39" stroke="#000" stroke-width="1.6" />
<line x1="900.20" y1="79.07" x2="909.20" y2="79.07" stroke="#000" stroke-width="1.6" />
<line x1="1492.00" y1="79.07" x2="1483.00" y2="79.07" stroke="#000" stroke-width="1.6" />
<line x1="900.20" y1="76.10" x2="918.20" y2="76.10" stroke="#000" stroke-width="1.6" />
<line x1="1492.00" y1="76.10" x2="1474.00" y2="76.10" stroke="#000" stroke-width="1.6" />
<line x1="900.20" y1="110.03" x2="1492.00" y2="110.03" stroke="#000" stroke-width="3" stroke-dasharray="6.7 6.6" stroke-dashoffset="-2.5"/>
<line x1="900.20" y1="174.93" x2="1492.00" y2="174.93" stroke="#000" stroke-width="3" stroke-dasharray="6.7 6.6" stroke-dashoffset="-2.5"/>
<polyline points="910.40,530.40 910.90,527.04 911.57,522.44 912.38,516.96 913.28,511.01 914.23,504.96 915.20,499.20 916.17,493.59 917.19,487.78 918.25,481.88 919.38,475.98 920.59,470.19 921.90,464.60 923.31,459.25 924.81,454.05 926.39,448.96 928.04,443.92 929.75,438.88 931.50,433.80 933.30,428.63 935.15,423.42 937.06,418.21 939.03,413.05 941.04,408.00 943.10,403.10 945.21,398.37 947.36,393.78 949.56,389.29 951.82,384.89 954.13,380.53 956.50,376.20 958.97,371.86 961.56,367.51 964.19,363.22 966.83,359.04 969.42,355.01 971.90,351.20 974.17,347.68 976.26,344.42 978.30,341.32 980.41,338.28 982.74,335.17 985.40,331.90 988.71,328.21 992.62,324.13 996.74,319.99 1000.68,316.13 1004.03,312.85 1006.40,310.50 1024.20,296.00 1088.50,244.00 1200.00,180.80 1290.00,140.50 1396.70,94.20 1492.00,56.40" fill="none" stroke="#ff0033" stroke-width="2.8" stroke-dasharray="26.5 7" stroke-linejoin="round"/>
<polyline points="906.20,530.40 906.53,526.10 906.97,520.09 907.50,512.99 908.10,505.45 908.74,498.07 909.40,491.50 910.07,485.69 910.77,480.14 911.52,474.76 912.33,469.46 913.21,464.17 914.20,458.80 915.29,453.45 916.48,448.21 917.75,442.98 919.09,437.64 920.47,432.08 921.90,426.20 923.37,419.83 924.89,413.03 926.46,406.01 928.08,398.99 929.76,392.18 931.50,385.80 933.30,379.86 935.15,374.19 937.06,368.73 939.03,363.43 941.04,358.24 943.10,353.10 945.21,348.00 947.36,342.97 949.56,338.04 951.82,333.26 954.13,328.63 956.50,324.20 958.95,320.00 961.47,316.01 964.06,312.18 966.67,308.47 969.29,304.83 971.90,301.20 974.47,297.62 977.01,294.14 979.57,290.73 982.16,287.36 984.83,283.99 987.60,280.60 990.47,277.17 993.43,273.70 996.45,270.25 999.54,266.84 1002.69,263.51 1005.90,260.30 1008.93,257.43 1011.73,254.91 1014.59,252.48 1017.80,249.85 1021.64,246.75 1026.40,242.90 1032.23,238.14 1038.95,232.65 1046.30,226.69 1054.03,220.51 1061.88,214.36 1069.60,208.50 1077.33,202.81 1085.29,197.05 1093.37,191.33 1101.48,185.74 1109.49,180.36 1117.30,175.30 1124.58,170.76 1131.34,166.70 1138.01,162.87 1145.01,158.99 1152.76,154.78 1161.70,150.00 1171.73,144.63 1182.50,138.89 1194.03,132.82 1206.32,126.50 1219.41,119.98 1233.30,113.30 1249.13,106.02 1267.12,97.99 1285.90,89.76 1304.10,81.86 1320.36,74.82 1333.30,69.20 1342.70,65.11 1349.60,62.14 1354.55,60.04 1358.11,58.56 1360.85,57.43 1363.30,56.40" fill="none" stroke="#ff6600" stroke-width="2.8" stroke-dasharray="26 13 2.5 13"/>
<clipPath id="hc"><path d="M141.80,697.80 L738.70,697.80 L738.70,1272.00 L738.70,1272.00 A596.90,574.20 0 0 0 141.80,697.80 Z"/></clipPath>
<g clip-path="url(#hc)"><path d="M-425.00,1272.00 L149.20,697.80 M-415.50,1272.00 L158.70,697.80 M-406.00,1272.00 L168.20,697.80 M-396.50,1272.00 L177.70,697.80 M-387.00,1272.00 L187.20,697.80 M-377.50,1272.00 L196.70,697.80 M-368.00,1272.00 L206.20,697.80 M-358.50,1272.00 L215.70,697.80 M-349.00,1272.00 L225.20,697.80 M-339.50,1272.00 L234.70,697.80 M-330.00,1272.00 L244.20,697.80 M-320.50,1272.00 L253.70,697.80 M-311.00,1272.00 L263.20,697.80 M-301.50,1272.00 L272.70,697.80 M-292.00,1272.00 L282.20,697.80 M-282.50,1272.00 L291.70,697.80 M-273.00,1272.00 L301.20,697.80 M-263.50,1272.00 L310.70,697.80 M-254.00,1272.00 L320.20,697.80 M-244.50,1272.00 L329.70,697.80 M-235.00,1272.00 L339.20,697.80 M-225.50,1272.00 L348.70,697.80 M-216.00,1272.00 L358.20,697.80 M-206.50,1272.00 L367.70,697.80 M-197.00,1272.00 L377.20,697.80 M-187.50,1272.00 L386.70,697.80 M-178.00,1272.00 L396.20,697.80 M-168.50,1272.00 L405.70,697.80 M-159.00,1272.00 L415.20,697.80 M-149.50,1272.00 L424.70,697.80 M-140.00,1272.00 L434.20,697.80 M-130.50,1272.00 L443.70,697.80 M-121.00,1272.00 L453.20,697.80 M-111.50,1272.00 L462.70,697.80 M-102.00,1272.00 L472.20,697.80 M-92.50,1272.00 L481.70,697.80 M-83.00,1272.00 L491.20,697.80 M-73.50,1272.00 L500.70,697.80 M-64.00,1272.00 L510.20,697.80 M-54.50,1272.00 L519.70,697.80 M-45.00,1272.00 L529.20,697.80 M-35.50,1272.00 L538.70,697.80 M-26.00,1272.00 L548.20,697.80 M-16.50,1272.00 L557.70,697.80 M-7.00,1272.00 L567.20,697.80 M2.50,1272.00 L576.70,697.80 M12.00,1272.00 L586.20,697.80 M21.50,1272.00 L595.70,697.80 M31.00,1272.00 L605.20,697.80 M40.50,1272.00 L614.70,697.80 M50.00,1272.00 L624.20,697.80 M59.50,1272.00 L633.70,697.80 M69.00,1272.00 L643.20,697.80 M78.50,1272.00 L652.70,697.80 M88.00,1272.00 L662.20,697.80 M97.50,1272.00 L671.70,697.80 M107.00,1272.00 L681.20,697.80 M116.50,1272.00 L690.70,697.80 M126.00,1272.00 L700.20,697.80 M135.50,1272.00 L709.70,697.80 M145.00,1272.00 L719.20,697.80 M154.50,1272.00 L728.70,697.80 M164.00,1272.00 L738.20,697.80 M173.50,1272.00 L747.70,697.80 M183.00,1272.00 L757.20,697.80 M192.50,1272.00 L766.70,697.80 M202.00,1272.00 L776.20,697.80 M211.50,1272.00 L785.70,697.80 M221.00,1272.00 L795.20,697.80 M230.50,1272.00 L804.70,697.80 M240.00,1272.00 L814.20,697.80 M249.50,1272.00 L823.70,697.80 M259.00,1272.00 L833.20,697.80 M268.50,1272.00 L842.70,697.80 M278.00,1272.00 L852.20,697.80 M287.50,1272.00 L861.70,697.80 M297.00,1272.00 L871.20,697.80 M306.50,1272.00 L880.70,697.80 M316.00,1272.00 L890.20,697.80 M325.50,1272.00 L899.70,697.80 M335.00,1272.00 L909.20,697.80 M344.50,1272.00 L918.70,697.80 M354.00,1272.00 L928.20,697.80 M363.50,1272.00 L937.70,697.80 M373.00,1272.00 L947.20,697.80 M382.50,1272.00 L956.70,697.80 M392.00,1272.00 L966.20,697.80 M401.50,1272.00 L975.70,697.80 M411.00,1272.00 L985.20,697.80 M420.50,1272.00 L994.70,697.80 M430.00,1272.00 L1004.20,697.80 M439.50,1272.00 L1013.70,697.80 M449.00,1272.00 L1023.20,697.80 M458.50,1272.00 L1032.70,697.80 M468.00,1272.00 L1042.20,697.80 M477.50,1272.00 L1051.70,697.80 M487.00,1272.00 L1061.20,697.80 M496.50,1272.00 L1070.70,697.80 M506.00,1272.00 L1080.20,697.80 M515.50,1272.00 L1089.70,697.80 M525.00,1272.00 L1099.20,697.80 M534.50,1272.00 L1108.70,697.80 M544.00,1272.00 L1118.20,697.80 M553.50,1272.00 L1127.70,697.80 M563.00,1272.00 L1137.20,697.80 M572.50,1272.00 L1146.70,697.80 M582.00,1272.00 L1156.20,697.80 M591.50,1272.00 L1165.70,697.80 M601.00,1272.00 L1175.20,697.80 M610.50,1272.00 L1184.70,697.80 M620.00,1272.00 L1194.20,697.80 M629.50,1272.00 L1203.70,697.80 M639.00,1272.00 L1213.20,697.80 M648.50,1272.00 L1222.70,697.80 M658.00,1272.00 L1232.20,697.80 M667.50,1272.00 L1241.70,697.80 M677.00,1272.00 L1251.20,697.80 M686.50,1272.00 L1260.70,697.80 M696.00,1272.00 L1270.20,697.80 M705.50,1272.00 L1279.70,697.80 M715.00,1272.00 L1289.20,697.80 M724.50,1272.00 L1298.70,697.80 M734.00,1272.00 L1308.20,697.80 M743.50,1272.00 L1317.70,697.80 M753.00,1272.00 L1327.20,697.80 M762.50,1272.00 L1336.70,697.80 M772.00,1272.00 L1346.20,697.80 M781.50,1272.00 L1355.70,697.80 M791.00,1272.00 L1365.20,697.80 M800.50,1272.00 L1374.70,697.80 M810.00,1272.00 L1384.20,697.80 M819.50,1272.00 L1393.70,697.80 M829.00,1272.00 L1403.20,697.80 M838.50,1272.00 L1412.70,697.80 M848.00,1272.00 L1422.20,697.80 M857.50,1272.00 L1431.70,697.80 M867.00,1272.00 L1441.20,697.80 M876.50,1272.00 L1450.70,697.80 M886.00,1272.00 L1460.20,697.80 M895.50,1272.00 L1469.70,697.80 M905.00,1272.00 L1479.20,697.80 M914.50,1272.00 L1488.70,697.80 M924.00,1272.00 L1498.20,697.80 M933.50,1272.00 L1507.70,697.80 M943.00,1272.00 L1517.20,697.80 M952.50,1272.00 L1526.70,697.80 M962.00,1272.00 L1536.20,697.80 M971.50,1272.00 L1545.70,697.80 M981.00,1272.00 L1555.20,697.80 M990.50,1272.00 L1564.70,697.80 M1000.00,1272.00 L1574.20,697.80 M1009.50,1272.00 L1583.70,697.80 M1019.00,1272.00 L1593.20,697.80 M1028.50,1272.00 L1602.70,697.80 M1038.00,1272.00 L1612.20,697.80 M1047.50,1272.00 L1621.70,697.80 M1057.00,1272.00 L1631.20,697.80 M1066.50,1272.00 L1640.70,697.80 M1076.00,1272.00 L1650.20,697.80 M1085.50,1272.00 L1659.70,697.80 M1095.00,1272.00 L1669.20,697.80 M1104.50,1272.00 L1678.70,697.80 M1114.00,1272.00 L1688.20,697.80 M1123.50,1272.00 L1697.70,697.80 M1133.00,1272.00 L1707.20,697.80 M1142.50,1272.00 L1716.70,697.80 M1152.00,1272.00 L1726.20,697.80 M1161.50,1272.00 L1735.70,697.80 M1171.00,1272.00 L1745.20,697.80 M1180.50,1272.00 L1754.70,697.80 M1190.00,1272.00 L1764.20,697.80 M1199.50,1272.00 L1773.70,697.80 M1209.00,1272.00 L1783.20,697.80 M1218.50,1272.00 L1792.70,697.80 M1228.00,1272.00 L1802.20,697.80 M1237.50,1272.00 L1811.70,697.80 M1247.00,1272.00 L1821.20,697.80 M1256.50,1272.00 L1830.70,697.80 M1266.00,1272.00 L1840.20,697.80 M1275.50,1272.00 L1849.70,697.80" stroke="#c4c4c4" stroke-width="1" fill="none"/></g>
<polyline points="239.09,1272.00 239.08,1270.23 239.04,1268.45 238.96,1266.68 238.86,1264.91 238.72,1263.14 238.56,1261.38 238.37,1259.61 238.15,1257.86 237.90,1256.10 237.62,1254.35 237.31,1252.61 236.97,1250.87 236.60,1249.14 236.20,1247.41 235.78,1245.70 235.33,1243.99 234.84,1242.29 234.33,1240.59 233.79,1238.91 233.23,1237.24 232.63,1235.58 232.01,1233.93 231.36,1232.29 230.68,1230.66 229.98,1229.05 229.25,1227.45 228.49,1225.86 227.71,1224.29 226.90,1222.73 226.06,1221.18 225.20,1219.65 224.31,1218.14 223.40,1216.65 222.46,1215.17 221.50,1213.71 220.51,1212.26 219.50,1210.84 218.47,1209.43 217.41,1208.04 216.33,1206.67 215.23,1205.32 214.10,1203.99 212.96,1202.69 211.79,1201.40 210.60,1200.13 209.39,1198.89 208.15,1197.67 206.90,1196.47 205.63,1195.30 204.34,1194.14 203.03,1193.02 201.70,1191.91 200.35,1190.83 198.99,1189.78 197.61,1188.75 196.21,1187.74 194.79,1186.76 193.36,1185.81 191.91,1184.88 190.45,1183.98 188.97,1183.11 187.48,1182.26 185.97,1181.44 184.45,1180.65 182.92,1179.89 181.37,1179.15 179.82,1178.45 178.25,1177.77 176.67,1177.12 175.08,1176.50 173.48,1175.90 171.87,1175.34 170.25,1174.81 168.62,1174.30 166.98,1173.83 165.34,1173.39 163.69,1172.97 162.03,1172.59 160.36,1172.23 158.70,1171.91 157.02,1171.62 155.34,1171.36 153.66,1171.12 151.97,1170.92 150.28,1170.75 148.59,1170.61 146.89,1170.51 145.20,1170.43 143.50,1170.38 141.80,1170.37" fill="none" stroke="#00ff00" stroke-width="2.4" stroke-linejoin="round"/>
<polyline points="348.33,1272.00 348.30,1268.42 348.20,1264.85 348.04,1261.27 347.82,1257.70 347.54,1254.13 347.20,1250.57 346.79,1247.02 346.32,1243.47 345.78,1239.93 345.19,1236.40 344.53,1232.89 343.81,1229.38 343.03,1225.89 342.19,1222.41 341.29,1218.94 340.33,1215.50 339.30,1212.07 338.22,1208.65 337.08,1205.26 335.87,1201.89 334.61,1198.54 333.29,1195.21 331.91,1191.90 330.47,1188.62 328.98,1185.37 327.43,1182.14 325.82,1178.94 324.15,1175.76 322.43,1172.62 320.66,1169.51 318.83,1166.42 316.95,1163.37 315.01,1160.35 313.02,1157.37 310.98,1154.42 308.88,1151.51 306.74,1148.63 304.55,1145.80 302.30,1143.00 300.01,1140.24 297.67,1137.51 295.28,1134.84 292.84,1132.20 290.36,1129.60 287.84,1127.05 285.27,1124.54 282.65,1122.08 279.99,1119.66 277.29,1117.29 274.55,1114.97 271.77,1112.69 268.95,1110.47 266.09,1108.29 263.19,1106.16 260.26,1104.08 257.29,1102.06 254.28,1100.08 251.24,1098.16 248.17,1096.29 245.06,1094.47 241.93,1092.71 238.76,1091.01 235.56,1089.35 232.34,1087.76 229.08,1086.22 225.80,1084.73 222.50,1083.31 219.17,1081.94 215.81,1080.63 212.44,1079.37 209.04,1078.18 205.62,1077.04 202.18,1075.97 198.73,1074.95 195.25,1074.00 191.76,1073.10 188.26,1072.26 184.74,1071.49 181.21,1070.78 177.66,1070.12 174.11,1069.53 170.54,1069.01 166.97,1068.54 163.39,1068.13 159.80,1067.79 156.21,1067.51 152.61,1067.29 149.01,1067.14 145.40,1067.04 141.80,1067.01" fill="none" stroke="#000000" stroke-width="2.4" stroke-linejoin="round"/>
<polyline points="440.25,1272.00 440.20,1266.97 440.07,1261.94 439.84,1256.91 439.52,1251.89 439.11,1246.88 438.62,1241.87 438.03,1236.87 437.35,1231.88 436.58,1226.91 435.72,1221.95 434.77,1217.00 433.73,1212.07 432.60,1207.16 431.38,1202.27 430.08,1197.40 428.69,1192.55 427.21,1187.72 425.64,1182.93 423.99,1178.16 422.25,1173.41 420.43,1168.70 418.52,1164.02 416.52,1159.37 414.45,1154.76 412.29,1150.18 410.05,1145.64 407.72,1141.14 405.32,1136.68 402.83,1132.25 400.27,1127.88 397.62,1123.54 394.90,1119.25 392.10,1115.01 389.23,1110.81 386.28,1106.67 383.25,1102.57 380.15,1098.53 376.98,1094.54 373.74,1090.60 370.43,1086.72 367.04,1082.89 363.59,1079.12 360.07,1075.42 356.49,1071.77 352.84,1068.18 349.12,1064.65 345.34,1061.19 341.50,1057.79 337.60,1054.46 333.64,1051.19 329.62,1047.99 325.54,1044.86 321.41,1041.79 317.22,1038.80 312.98,1035.88 308.69,1033.03 304.35,1030.25 299.95,1027.55 295.51,1024.92 291.03,1022.37 286.49,1019.89 281.91,1017.49 277.29,1015.17 272.63,1012.92 267.93,1010.76 263.19,1008.67 258.41,1006.67 253.60,1004.74 248.75,1002.90 243.88,1001.14 238.97,999.46 234.03,997.86 229.06,996.35 224.06,994.92 219.04,993.57 214.00,992.31 208.94,991.14 203.85,990.05 198.75,989.05 193.63,988.13 188.49,987.30 183.34,986.56 178.17,985.90 173.00,985.33 167.81,984.85 162.62,984.45 157.42,984.15 152.22,983.93 147.01,983.80 141.80,983.75" fill="none" stroke="#800000" stroke-width="2.6" stroke-linejoin="round"/>
<polyline points="532.17,1272.00 532.11,1265.40 531.93,1258.79 531.64,1252.20 531.22,1245.60 530.69,1239.02 530.03,1232.45 529.26,1225.88 528.37,1219.34 527.37,1212.81 526.24,1206.29 525.00,1199.80 523.64,1193.33 522.17,1186.88 520.58,1180.46 518.87,1174.06 517.05,1167.70 515.12,1161.37 513.07,1155.07 510.90,1148.81 508.63,1142.58 506.24,1136.39 503.75,1130.25 501.14,1124.15 498.42,1118.09 495.60,1112.08 492.66,1106.12 489.62,1100.21 486.48,1094.35 483.23,1088.55 479.87,1082.80 476.41,1077.11 472.85,1071.48 469.19,1065.91 465.43,1060.40 461.57,1054.96 457.62,1049.58 453.57,1044.27 449.42,1039.04 445.18,1033.87 440.84,1028.77 436.42,1023.75 431.90,1018.80 427.30,1013.93 422.61,1009.14 417.84,1004.43 412.98,999.80 408.03,995.26 403.01,990.80 397.91,986.42 392.73,982.13 387.47,977.93 382.14,973.82 376.73,969.80 371.26,965.87 365.71,962.03 360.09,958.29 354.41,954.65 348.67,951.10 342.86,947.65 336.99,944.30 331.06,941.05 325.07,937.89 319.03,934.85 312.93,931.90 306.78,929.06 300.58,926.32 294.33,923.68 288.04,921.16 281.70,918.74 275.32,916.42 268.89,914.22 262.43,912.12 255.93,910.14 249.40,908.26 242.84,906.50 236.24,904.84 229.61,903.30 222.96,901.87 216.29,900.55 209.59,899.35 202.87,898.26 196.13,897.28 189.37,896.42 182.61,895.68 175.82,895.04 169.03,894.52 162.23,894.12 155.42,893.83 148.61,893.66 141.80,893.60" fill="none" stroke="#0000ff" stroke-width="2.0" stroke-linejoin="round"/>
<polyline points="623.50,1272.00 623.42,1263.72 623.20,1255.45 622.84,1247.18 622.32,1238.92 621.67,1230.66 620.86,1222.42 619.91,1214.20 618.81,1205.99 617.57,1197.80 616.18,1189.64 614.65,1181.50 612.97,1173.39 611.15,1165.31 609.19,1157.26 607.08,1149.24 604.84,1141.27 602.45,1133.33 599.92,1125.44 597.25,1117.59 594.45,1109.78 591.50,1102.03 588.42,1094.33 585.21,1086.68 581.85,1079.09 578.37,1071.56 574.75,1064.09 571.00,1056.68 567.11,1049.33 563.10,1042.06 558.96,1034.86 554.70,1027.72 550.30,1020.67 545.79,1013.68 541.15,1006.78 536.38,999.96 531.50,993.22 526.50,986.57 521.38,980.00 516.15,973.52 510.80,967.13 505.34,960.84 499.77,954.64 494.09,948.54 488.30,942.53 482.41,936.63 476.42,930.82 470.32,925.13 464.12,919.53 457.82,914.05 451.43,908.67 444.94,903.41 438.36,898.26 431.69,893.22 424.94,888.29 418.09,883.49 411.16,878.80 404.15,874.23 397.06,869.78 389.89,865.45 382.65,861.25 375.33,857.18 367.94,853.23 360.49,849.41 352.96,845.71 345.37,842.15 337.72,838.72 330.01,835.41 322.25,832.25 314.43,829.21 306.55,826.31 298.63,823.55 290.65,820.92 282.63,818.43 274.57,816.08 266.47,813.87 258.33,811.80 250.16,809.87 241.95,808.08 233.71,806.42 225.45,804.92 217.15,803.55 208.84,802.33 200.50,801.25 192.15,800.31 183.78,799.52 175.40,798.87 167.01,798.36 158.61,798.00 150.21,797.78 141.80,797.71" fill="none" stroke="#ff00ff" stroke-width="2.0" stroke-linejoin="round"/>
<polyline points="705.87,1272.00 705.78,1262.21 705.53,1252.42 705.10,1242.64 704.50,1232.87 703.72,1223.11 702.78,1213.36 701.67,1203.63 700.38,1193.92 698.93,1184.24 697.30,1174.58 695.51,1164.96 693.54,1155.36 691.41,1145.80 689.12,1136.28 686.65,1126.80 684.02,1117.37 681.22,1107.98 678.26,1098.64 675.14,1089.36 671.85,1080.13 668.41,1070.96 664.80,1061.85 661.03,1052.80 657.10,1043.82 653.02,1034.91 648.78,1026.08 644.39,1017.31 639.84,1008.63 635.15,1000.03 630.30,991.50 625.30,983.07 620.16,974.72 614.87,966.46 609.44,958.30 603.86,950.23 598.14,942.26 592.29,934.39 586.29,926.62 580.17,918.96 573.90,911.40 567.51,903.96 560.99,896.62 554.34,889.40 547.56,882.30 540.66,875.32 533.64,868.46 526.50,861.72 519.24,855.10 511.86,848.61 504.38,842.25 496.78,836.03 489.08,829.93 481.27,823.97 473.35,818.15 465.34,812.46 457.22,806.92 449.01,801.51 440.71,796.25 432.32,791.13 423.84,786.17 415.27,781.34 406.62,776.67 397.88,772.15 389.07,767.78 380.19,763.57 371.23,759.51 362.20,755.60 353.10,751.86 343.94,748.27 334.72,744.84 325.44,741.57 316.11,738.46 306.72,735.52 297.28,732.74 287.79,730.12 278.26,727.67 268.69,725.38 259.08,723.27 249.43,721.31 239.75,719.53 230.04,717.91 220.30,716.47 210.54,715.19 200.76,714.08 190.96,713.14 181.15,712.37 171.32,711.78 161.49,711.35 151.64,711.09 141.80,711.01" fill="none" stroke="#007f00" stroke-width="2.6" stroke-linejoin="round"/>
<polyline points="738.70,1272.00 738.61,1261.98 738.34,1251.96 737.88,1241.95 737.25,1231.95 736.43,1221.96 735.43,1211.98 734.25,1202.02 732.89,1192.09 731.35,1182.18 729.63,1172.29 727.73,1162.44 725.66,1152.62 723.40,1142.83 720.97,1133.09 718.36,1123.39 715.58,1113.73 712.62,1104.12 709.49,1094.56 706.18,1085.06 702.70,1075.61 699.05,1066.23 695.24,1056.90 691.25,1047.64 687.10,1038.45 682.78,1029.33 678.29,1020.29 673.64,1011.32 668.83,1002.43 663.86,993.62 658.73,984.90 653.44,976.27 648.00,967.72 642.40,959.27 636.65,950.91 630.75,942.65 624.70,934.49 618.51,926.44 612.16,918.49 605.68,910.64 599.05,902.91 592.29,895.29 585.38,887.79 578.35,880.40 571.17,873.13 563.87,865.98 556.44,858.96 548.88,852.06 541.20,845.29 533.40,838.65 525.48,832.14 517.44,825.76 509.29,819.52 501.02,813.42 492.65,807.46 484.17,801.64 475.58,795.97 466.90,790.44 458.11,785.05 449.23,779.81 440.25,774.73 431.18,769.79 422.03,765.01 412.79,760.38 403.46,755.91 394.06,751.60 384.58,747.44 375.03,743.45 365.40,739.61 355.71,735.94 345.95,732.43 336.13,729.08 326.25,725.90 316.32,722.89 306.33,720.04 296.29,717.37 286.20,714.86 276.07,712.52 265.90,710.35 255.69,708.35 245.45,706.52 235.18,704.87 224.87,703.39 214.54,702.08 204.19,700.95 193.82,699.99 183.44,699.20 173.04,698.59 162.63,698.15 152.22,697.89 141.80,697.80" fill="none" stroke="#ff0000" stroke-width="2.7" stroke-linejoin="round"/>
<rect x="141.80" y="697.80" width="596.90" height="574.20" fill="none" stroke="#000" stroke-width="2"/>
<line x1="171.65" y1="1272.00" x2="171.65" y2="1266.50" stroke="#000" stroke-width="2" />
<line x1="171.65" y1="697.80" x2="171.65" y2="703.30" stroke="#000" stroke-width="2" />
<line x1="141.80" y1="1243.29" x2="147.30" y2="1243.29" stroke="#000" stroke-width="2" />
<line x1="738.70" y1="1243.29" x2="733.20" y2="1243.29" stroke="#000" stroke-width="2" />
<line x1="201.49" y1="1272.00" x2="201.49" y2="1262.00" stroke="#000" stroke-width="2" />
<line x1="201.49" y1="697.80" x2="201.49" y2="707.80" stroke="#000" stroke-width="2" />
<line x1="141.80" y1="1214.58" x2="151.80" y2="1214.58" stroke="#000" stroke-width="2" />
<line x1="738.70" y1="1214.58" x2="728.70" y2="1214.58" stroke="#000" stroke-width="2" />
<line x1="231.34" y1="1272.00" x2="231.34" y2="1266.50" stroke="#000" stroke-width="2" />
<line x1="231.34" y1="697.80" x2="231.34" y2="703.30" stroke="#000" stroke-width="2" />
<line x1="141.80" y1="1185.87" x2="147.30" y2="1185.87" stroke="#000" stroke-width="2" />
<line x1="738.70" y1="1185.87" x2="733.20" y2="1185.87" stroke="#000" stroke-width="2" />
<line x1="261.18" y1="1272.00" x2="261.18" y2="1262.00" stroke="#000" stroke-width="2" />
<line x1="261.18" y1="697.80" x2="261.18" y2="707.80" stroke="#000" stroke-width="2" />
<line x1="141.80" y1="1157.16" x2="151.80" y2="1157.16" stroke="#000" stroke-width="2" />
<line x1="738.70" y1="1157.16" x2="728.70" y2="1157.16" stroke="#000" stroke-width="2" />
<line x1="291.03" y1="1272.00" x2="291.03" y2="1266.50" stroke="#000" stroke-width="2" />
<line x1="291.03" y1="697.80" x2="291.03" y2="703.30" stroke="#000" stroke-width="2" />
<line x1="141.80" y1="1128.45" x2="147.30" y2="1128.45" stroke="#000" stroke-width="2" />
<line x1="738.70" y1="1128.45" x2="733.20" y2="1128.45" stroke="#000" stroke-width="2" />
<line x1="320.87" y1="1272.00" x2="320.87" y2="1262.00" stroke="#000" stroke-width="2" />
<line x1="320.87" y1="697.80" x2="320.87" y2="707.80" stroke="#000" stroke-width="2" />
<line x1="141.80" y1="1099.74" x2="151.80" y2="1099.74" stroke="#000" stroke-width="2" />
<line x1="738.70" y1="1099.74" x2="728.70" y2="1099.74" stroke="#000" stroke-width="2" />
<line x1="350.72" y1="1272.00" x2="350.72" y2="1266.50" stroke="#000" stroke-width="2" />
<line x1="350.72" y1="697.80" x2="350.72" y2="703.30" stroke="#000" stroke-width="2" />
<line x1="141.80" y1="1071.03" x2="147.30" y2="1071.03" stroke="#000" stroke-width="2" />
<line x1="738.70" y1="1071.03" x2="733.20" y2="1071.03" stroke="#000" stroke-width="2" />
<line x1="380.56" y1="1272.00" x2="380.56" y2="1262.00" stroke="#000" stroke-width="2" />
<line x1="380.56" y1="697.80" x2="380.56" y2="707.80" stroke="#000" stroke-width="2" />
<line x1="141.80" y1="1042.32" x2="151.80" y2="1042.32" stroke="#000" stroke-width="2" />
<line x1="738.70" y1="1042.32" x2="728.70" y2="1042.32" stroke="#000" stroke-width="2" />
<line x1="410.41" y1="1272.00" x2="410.41" y2="1266.50" stroke="#000" stroke-width="2" />
<line x1="410.41" y1="697.80" x2="410.41" y2="703.30" stroke="#000" stroke-width="2" />
<line x1="141.80" y1="1013.61" x2="147.30" y2="1013.61" stroke="#000" stroke-width="2" />
<line x1="738.70" y1="1013.61" x2="733.20" y2="1013.61" stroke="#000" stroke-width="2" />
<line x1="440.25" y1="1272.00" x2="440.25" y2="1262.00" stroke="#000" stroke-width="2" />
<line x1="440.25" y1="697.80" x2="440.25" y2="707.80" stroke="#000" stroke-width="2" />
<line x1="141.80" y1="984.90" x2="151.80" y2="984.90" stroke="#000" stroke-width="2" />
<line x1="738.70" y1="984.90" x2="728.70" y2="984.90" stroke="#000" stroke-width="2" />
<line x1="470.10" y1="1272.00" x2="470.10" y2="1266.50" stroke="#000" stroke-width="2" />
<line x1="470.10" y1="697.80" x2="470.10" y2="703.30" stroke="#000" stroke-width="2" />
<line x1="141.80" y1="956.19" x2="147.30" y2="956.19" stroke="#000" stroke-width="2" />
<line x1="738.70" y1="956.19" x2="733.20" y2="956.19" stroke="#000" stroke-width="2" />
<line x1="499.94" y1="1272.00" x2="499.94" y2="1262.00" stroke="#000" stroke-width="2" />
<line x1="499.94" y1="697.80" x2="499.94" y2="707.80" stroke="#000" stroke-width="2" />
<line x1="141.80" y1="927.48" x2="151.80" y2="927.48" stroke="#000" stroke-width="2" />
<line x1="738.70" y1="927.48" x2="728.70" y2="927.48" stroke="#000" stroke-width="2" />
<line x1="529.79" y1="1272.00" x2="529.79" y2="1266.50" stroke="#000" stroke-width="2" />
<line x1="529.79" y1="697.80" x2="529.79" y2="703.30" stroke="#000" stroke-width="2" />
<line x1="141.80" y1="898.77" x2="147.30" y2="898.77" stroke="#000" stroke-width="2" />
<line x1="738.70" y1="898.77" x2="733.20" y2="898.77" stroke="#000" stroke-width="2" />
<line x1="559.63" y1="1272.00" x2="559.63" y2="1262.00" stroke="#000" stroke-width="2" />
<line x1="559.63" y1="697.80" x2="559.63" y2="707.80" stroke="#000" stroke-width="2" />
<line x1="141.80" y1="870.06" x2="151.80" y2="870.06" stroke="#000" stroke-width="2" />
<line x1="738.70" y1="870.06" x2="728.70" y2="870.06" stroke="#000" stroke-width="2" />
<line x1="589.48" y1="1272.00" x2="589.48" y2="1266.50" stroke="#000" stroke-width="2" />
<line x1="589.48" y1="697.80" x2="589.48" y2="703.30" stroke="#000" stroke-width="2" />
<line x1="141.80" y1="841.35" x2="147.30" y2="841.35" stroke="#000" stroke-width="2" />
<line x1="738.70" y1="841.35" x2="733.20" y2="841.35" stroke="#000" stroke-width="2" />
<line x1="619.32" y1="1272.00" x2="619.32" y2="1262.00" stroke="#000" stroke-width="2" />
<line x1="619.32" y1="697.80" x2="619.32" y2="707.80" stroke="#000" stroke-width="2" />
<line x1="141.80" y1="812.64" x2="151.80" y2="812.64" stroke="#000" stroke-width="2" />
<line x1="738.70" y1="812.64" x2="728.70" y2="812.64" stroke="#000" stroke-width="2" />
<line x1="649.17" y1="1272.00" x2="649.17" y2="1266.50" stroke="#000" stroke-width="2" />
<line x1="649.17" y1="697.80" x2="649.17" y2="703.30" stroke="#000" stroke-width="2" />
<line x1="141.80" y1="783.93" x2="147.30" y2="783.93" stroke="#000" stroke-width="2" />
<line x1="738.70" y1="783.93" x2="733.20" y2="783.93" stroke="#000" stroke-width="2" />
<line x1="679.01" y1="1272.00" x2="679.01" y2="1262.00" stroke="#000" stroke-width="2" />
<line x1="679.01" y1="697.80" x2="679.01" y2="707.80" stroke="#000" stroke-width="2" />
<line x1="141.80" y1="755.22" x2="151.80" y2="755.22" stroke="#000" stroke-width="2" />
<line x1="738.70" y1="755.22" x2="728.70" y2="755.22" stroke="#000" stroke-width="2" />
<line x1="708.86" y1="1272.00" x2="708.86" y2="1266.50" stroke="#000" stroke-width="2" />
<line x1="708.86" y1="697.80" x2="708.86" y2="703.30" stroke="#000" stroke-width="2" />
<line x1="141.80" y1="726.51" x2="147.30" y2="726.51" stroke="#000" stroke-width="2" />
<line x1="738.70" y1="726.51" x2="733.20" y2="726.51" stroke="#000" stroke-width="2" />
<clipPath id="hd"><path d="M872.00,697.00 L1467.30,697.00 L1467.30,1274.00 L1467.30,1274.00 A595.30,577.00 0 0 0 872.00,697.00 Z"/></clipPath>
<g clip-path="url(#hd)"><path d="M302.50,1274.00 L879.50,697.00 M312.00,1274.00 L889.00,697.00 M321.50,1274.00 L898.50,697.00 M331.00,1274.00 L908.00,697.00 M340.50,1274.00 L917.50,697.00 M350.00,1274.00 L927.00,697.00 M359.50,1274.00 L936.50,697.00 M369.00,1274.00 L946.00,697.00 M378.50,1274.00 L955.50,697.00 M388.00,1274.00 L965.00,697.00 M397.50,1274.00 L974.50,697.00 M407.00,1274.00 L984.00,697.00 M416.50,1274.00 L993.50,697.00 M426.00,1274.00 L1003.00,697.00 M435.50,1274.00 L1012.50,697.00 M445.00,1274.00 L1022.00,697.00 M454.50,1274.00 L1031.50,697.00 M464.00,1274.00 L1041.00,697.00 M473.50,1274.00 L1050.50,697.00 M483.00,1274.00 L1060.00,697.00 M492.50,1274.00 L1069.50,697.00 M502.00,1274.00 L1079.00,697.00 M511.50,1274.00 L1088.50,697.00 M521.00,1274.00 L1098.00,697.00 M530.50,1274.00 L1107.50,697.00 M540.00,1274.00 L1117.00,697.00 M549.50,1274.00 L1126.50,697.00 M559.00,1274.00 L1136.00,697.00 M568.50,1274.00 L1145.50,697.00 M578.00,1274.00 L1155.00,697.00 M587.50,1274.00 L1164.50,697.00 M597.00,1274.00 L1174.00,697.00 M606.50,1274.00 L1183.50,697.00 M616.00,1274.00 L1193.00,697.00 M625.50,1274.00 L1202.50,697.00 M635.00,1274.00 L1212.00,697.00 M644.50,1274.00 L1221.50,697.00 M654.00,1274.00 L1231.00,697.00 M663.50,1274.00 L1240.50,697.00 M673.00,1274.00 L1250.00,697.00 M682.50,1274.00 L1259.50,697.00 M692.00,1274.00 L1269.00,697.00 M701.50,1274.00 L1278.50,697.00 M711.00,1274.00 L1288.00,697.00 M720.50,1274.00 L1297.50,697.00 M730.00,1274.00 L1307.00,697.00 M739.50,1274.00 L1316.50,697.00 M749.00,1274.00 L1326.00,697.00 M758.50,1274.00 L1335.50,697.00 M768.00,1274.00 L1345.00,697.00 M777.50,1274.00 L1354.50,697.00 M787.00,1274.00 L1364.00,697.00 M796.50,1274.00 L1373.50,697.00 M806.00,1274.00 L1383.00,697.00 M815.50,1274.00 L1392.50,697.00 M825.00,1274.00 L1402.00,697.00 M834.50,1274.00 L1411.50,697.00 M844.00,1274.00 L1421.00,697.00 M853.50,1274.00 L1430.50,697.00 M863.00,1274.00 L1440.00,697.00 M872.50,1274.00 L1449.50,697.00 M882.00,1274.00 L1459.00,697.00 M891.50,1274.00 L1468.50,697.00 M901.00,1274.00 L1478.00,697.00 M910.50,1274.00 L1487.50,697.00 M920.00,1274.00 L1497.00,697.00 M929.50,1274.00 L1506.50,697.00 M939.00,1274.00 L1516.00,697.00 M948.50,1274.00 L1525.50,697.00 M958.00,1274.00 L1535.00,697.00 M967.50,1274.00 L1544.50,697.00 M977.00,1274.00 L1554.00,697.00 M986.50,1274.00 L1563.50,697.00 M996.00,1274.00 L1573.00,697.00 M1005.50,1274.00 L1582.50,697.00 M1015.00,1274.00 L1592.00,697.00 M1024.50,1274.00 L1601.50,697.00 M1034.00,1274.00 L1611.00,697.00 M1043.50,1274.00 L1620.50,697.00 M1053.00,1274.00 L1630.00,697.00 M1062.50,1274.00 L1639.50,697.00 M1072.00,1274.00 L1649.00,697.00 M1081.50,1274.00 L1658.50,697.00 M1091.00,1274.00 L1668.00,697.00 M1100.50,1274.00 L1677.50,697.00 M1110.00,1274.00 L1687.00,697.00 M1119.50,1274.00 L1696.50,697.00 M1129.00,1274.00 L1706.00,697.00 M1138.50,1274.00 L1715.50,697.00 M1148.00,1274.00 L1725.00,697.00 M1157.50,1274.00 L1734.50,697.00 M1167.00,1274.00 L1744.00,697.00 M1176.50,1274.00 L1753.50,697.00 M1186.00,1274.00 L1763.00,697.00 M1195.50,1274.00 L1772.50,697.00 M1205.00,1274.00 L1782.00,697.00 M1214.50,1274.00 L1791.50,697.00 M1224.00,1274.00 L1801.00,697.00 M1233.50,1274.00 L1810.50,697.00 M1243.00,1274.00 L1820.00,697.00 M1252.50,1274.00 L1829.50,697.00 M1262.00,1274.00 L1839.00,697.00 M1271.50,1274.00 L1848.50,697.00 M1281.00,1274.00 L1858.00,697.00 M1290.50,1274.00 L1867.50,697.00 M1300.00,1274.00 L1877.00,697.00 M1309.50,1274.00 L1886.50,697.00 M1319.00,1274.00 L1896.00,697.00 M1328.50,1274.00 L1905.50,697.00 M1338.00,1274.00 L1915.00,697.00 M1347.50,1274.00 L1924.50,697.00 M1357.00,1274.00 L1934.00,697.00 M1366.50,1274.00 L1943.50,697.00 M1376.00,1274.00 L1953.00,697.00 M1385.50,1274.00 L1962.50,697.00 M1395.00,1274.00 L1972.00,697.00 M1404.50,1274.00 L1981.50,697.00 M1414.00,1274.00 L1991.00,697.00 M1423.50,1274.00 L2000.50,697.00 M1433.00,1274.00 L2010.00,697.00 M1442.50,1274.00 L2019.50,697.00 M1452.00,1274.00 L2029.00,697.00 M1461.50,1274.00 L2038.50,697.00 M1471.00,1274.00 L2048.00,697.00 M1480.50,1274.00 L2057.50,697.00 M1490.00,1274.00 L2067.00,697.00 M1499.50,1274.00 L2076.50,697.00 M1509.00,1274.00 L2086.00,697.00 M1518.50,1274.00 L2095.50,697.00 M1528.00,1274.00 L2105.00,697.00 M1537.50,1274.00 L2114.50,697.00 M1547.00,1274.00 L2124.00,697.00 M1556.50,1274.00 L2133.50,697.00 M1566.00,1274.00 L2143.00,697.00 M1575.50,1274.00 L2152.50,697.00 M1585.00,1274.00 L2162.00,697.00 M1594.50,1274.00 L2171.50,697.00 M1604.00,1274.00 L2181.00,697.00 M1613.50,1274.00 L2190.50,697.00 M1623.00,1274.00 L2200.00,697.00 M1632.50,1274.00 L2209.50,697.00 M1642.00,1274.00 L2219.00,697.00 M1651.50,1274.00 L2228.50,697.00 M1661.00,1274.00 L2238.00,697.00 M1670.50,1274.00 L2247.50,697.00 M1680.00,1274.00 L2257.00,697.00 M1689.50,1274.00 L2266.50,697.00 M1699.00,1274.00 L2276.00,697.00 M1708.50,1274.00 L2285.50,697.00 M1718.00,1274.00 L2295.00,697.00 M1727.50,1274.00 L2304.50,697.00 M1737.00,1274.00 L2314.00,697.00 M1746.50,1274.00 L2323.50,697.00 M1756.00,1274.00 L2333.00,697.00 M1765.50,1274.00 L2342.50,697.00 M1775.00,1274.00 L2352.00,697.00 M1784.50,1274.00 L2361.50,697.00 M1794.00,1274.00 L2371.00,697.00 M1803.50,1274.00 L2380.50,697.00 M1813.00,1274.00 L2390.00,697.00 M1822.50,1274.00 L2399.50,697.00 M1832.00,1274.00 L2409.00,697.00 M1841.50,1274.00 L2418.50,697.00 M1851.00,1274.00 L2428.00,697.00 M1860.50,1274.00 L2437.50,697.00 M1870.00,1274.00 L2447.00,697.00 M1879.50,1274.00 L2456.50,697.00 M1889.00,1274.00 L2466.00,697.00 M1898.50,1274.00 L2475.50,697.00 M1908.00,1274.00 L2485.00,697.00 M1917.50,1274.00 L2494.50,697.00 M1927.00,1274.00 L2504.00,697.00 M1936.50,1274.00 L2513.50,697.00 M1946.00,1274.00 L2523.00,697.00 M1955.50,1274.00 L2532.50,697.00 M1965.00,1274.00 L2542.00,697.00 M1974.50,1274.00 L2551.50,697.00 M1984.00,1274.00 L2561.00,697.00 M1993.50,1274.00 L2570.50,697.00 M2003.00,1274.00 L2580.00,697.00" stroke="#a4a4a4" stroke-width="1" fill="none"/></g>
<polyline points="872.00,705.40 877.20,705.39 884.37,705.37 892.88,705.36 902.08,705.33 911.33,705.28 920.00,705.20 928.78,705.08 938.34,704.92 947.95,704.74 956.89,704.56 964.45,704.41 969.90,704.30" fill="none" stroke="#00ff00" stroke-width="2.2" />
<polyline points="872.00,734.80 883.86,734.73 900.34,734.64 919.83,734.52 940.69,734.39 961.29,734.21 980.00,734.00 998.13,733.71 1017.24,733.35 1036.10,732.95 1053.46,732.56 1068.07,732.23 1078.70,732.00" fill="none" stroke="#000000" stroke-width="2.0" />
<polyline points="872.00,774.90 888.09,774.84 910.32,774.76 936.67,774.67 965.09,774.56 993.55,774.44 1020.00,774.30 1046.54,774.13 1075.20,773.93 1103.90,773.71 1130.54,773.50 1153.04,773.33 1169.30,773.20" fill="none" stroke="#800000" stroke-width="2.0" />
<polyline points="872.00,840.40 894.16,840.06 925.59,839.57 962.44,838.99 1000.85,838.41 1036.99,837.89 1067.00,837.50 1090.94,837.24 1111.88,837.05 1130.55,836.92 1147.65,836.84 1163.90,836.80 1180.00,836.80 1196.43,836.86 1212.73,836.99 1228.16,837.16 1242.03,837.34 1253.61,837.50 1262.20,837.60" fill="none" stroke="#0000ff" stroke-width="2.0" />
<polyline points="872.00,948.00 885.56,947.76 904.00,947.45 926.00,947.07 950.22,946.62 975.33,946.10 1000.00,945.50 1024.44,944.82 1049.76,944.07 1075.98,943.24 1103.08,942.34 1131.09,941.40 1160.00,940.40 1192.42,939.25 1228.86,937.92 1266.20,936.53 1301.32,935.21 1331.09,934.10 1352.40,933.30" fill="none" stroke="#ff00ff" stroke-width="2.0" />
<polyline points="872.00,1150.50 880.81,1150.31 893.26,1150.05 907.88,1149.74 923.19,1149.39 937.72,1149.00 950.00,1148.60 959.95,1148.18 968.74,1147.74 976.75,1147.27 984.37,1146.76 991.99,1146.21 1000.00,1145.60 1008.33,1144.94 1016.67,1144.24 1025.00,1143.49 1033.33,1142.70 1041.67,1141.87 1050.00,1141.00 1058.33,1140.09 1066.67,1139.14 1075.00,1138.15 1083.33,1137.13 1091.67,1136.07 1100.00,1135.00 1108.06,1133.94 1115.78,1132.91 1123.50,1131.84 1131.56,1130.70 1140.28,1129.44 1150.00,1128.00 1160.92,1126.34 1172.81,1124.48 1185.38,1122.50 1198.30,1120.46 1211.27,1118.44 1224.00,1116.50 1235.87,1114.72 1247.00,1113.06 1258.19,1111.42 1270.23,1109.68 1283.90,1107.74 1300.00,1105.50 1320.64,1102.67 1345.60,1099.29 1372.20,1095.71 1397.74,1092.29 1419.54,1089.36 1434.90,1087.30" fill="none" stroke="#007f00" stroke-width="2.0" />
<polyline points="1467.30,1274.00 1467.21,1263.93 1466.94,1253.86 1466.48,1243.80 1465.85,1233.75 1465.03,1223.71 1464.04,1213.69 1462.86,1203.68 1461.51,1193.70 1459.97,1183.74 1458.26,1173.81 1456.36,1163.90 1454.29,1154.03 1452.04,1144.20 1449.62,1134.41 1447.02,1124.66 1444.24,1114.96 1441.29,1105.30 1438.16,1095.70 1434.87,1086.15 1431.40,1076.65 1427.76,1067.22 1423.95,1057.85 1419.98,1048.55 1415.83,1039.31 1411.53,1030.15 1407.05,1021.06 1402.42,1012.05 1397.62,1003.11 1392.66,994.26 1387.54,985.50 1382.27,976.82 1376.84,968.24 1371.26,959.74 1365.53,951.35 1359.64,943.05 1353.61,934.85 1347.43,926.75 1341.10,918.76 1334.63,910.88 1328.03,903.11 1321.28,895.45 1314.39,887.91 1307.37,880.49 1300.22,873.18 1292.94,866.00 1285.53,858.94 1277.99,852.01 1270.33,845.21 1262.55,838.53 1254.65,831.99 1246.63,825.59 1238.50,819.32 1230.26,813.19 1221.91,807.20 1213.45,801.35 1204.89,795.65 1196.22,790.09 1187.46,784.68 1178.60,779.41 1169.65,774.30 1160.61,769.34 1151.48,764.54 1142.26,759.89 1132.96,755.40 1123.58,751.06 1114.13,746.88 1104.60,742.87 1095.00,739.01 1085.34,735.32 1075.60,731.80 1065.81,728.44 1055.96,725.24 1046.05,722.21 1036.09,719.35 1026.07,716.66 1016.02,714.14 1005.91,711.79 995.77,709.61 985.59,707.60 975.37,705.77 965.13,704.10 954.85,702.62 944.55,701.30 934.23,700.16 923.88,699.20 913.53,698.41 903.16,697.79 892.78,697.35 882.39,697.09 872.00,697.00" fill="none" stroke="#ff0000" stroke-width="2.2" stroke-linejoin="round"/>
<rect x="872.00" y="697.00" width="595.30" height="577.00" fill="none" stroke="#000" stroke-width="2"/>
<line x1="901.76" y1="1274.00" x2="901.76" y2="1268.50" stroke="#000" stroke-width="2" />
<line x1="901.76" y1="697.00" x2="901.76" y2="702.50" stroke="#000" stroke-width="2" />
<line x1="872.00" y1="1245.15" x2="877.50" y2="1245.15" stroke="#000" stroke-width="2" />
<line x1="1467.30" y1="1245.15" x2="1461.80" y2="1245.15" stroke="#000" stroke-width="2" />
<line x1="931.53" y1="1274.00" x2="931.53" y2="1264.00" stroke="#000" stroke-width="2" />
<line x1="931.53" y1="697.00" x2="931.53" y2="707.00" stroke="#000" stroke-width="2" />
<line x1="872.00" y1="1216.30" x2="882.00" y2="1216.30" stroke="#000" stroke-width="2" />
<line x1="1467.30" y1="1216.30" x2="1457.30" y2="1216.30" stroke="#000" stroke-width="2" />
<line x1="961.29" y1="1274.00" x2="961.29" y2="1268.50" stroke="#000" stroke-width="2" />
<line x1="961.29" y1="697.00" x2="961.29" y2="702.50" stroke="#000" stroke-width="2" />
<line x1="872.00" y1="1187.45" x2="877.50" y2="1187.45" stroke="#000" stroke-width="2" />
<line x1="1467.30" y1="1187.45" x2="1461.80" y2="1187.45" stroke="#000" stroke-width="2" />
<line x1="991.06" y1="1274.00" x2="991.06" y2="1264.00" stroke="#000" stroke-width="2" />
<line x1="991.06" y1="697.00" x2="991.06" y2="707.00" stroke="#000" stroke-width="2" />
<line x1="872.00" y1="1158.60" x2="882.00" y2="1158.60" stroke="#000" stroke-width="2" />
<line x1="1467.30" y1="1158.60" x2="1457.30" y2="1158.60" stroke="#000" stroke-width="2" />
<line x1="1020.83" y1="1274.00" x2="1020.83" y2="1268.50" stroke="#000" stroke-width="2" />
<line x1="1020.83" y1="697.00" x2="1020.83" y2="702.50" stroke="#000" stroke-width="2" />
<line x1="872.00" y1="1129.75" x2="877.50" y2="1129.75" stroke="#000" stroke-width="2" />
<line x1="1467.30" y1="1129.75" x2="1461.80" y2="1129.75" stroke="#000" stroke-width="2" />
<line x1="1050.59" y1="1274.00" x2="1050.59" y2="1264.00" stroke="#000" stroke-width="2" />
<line x1="1050.59" y1="697.00" x2="1050.59" y2="707.00" stroke="#000" stroke-width="2" />
<line x1="872.00" y1="1100.90" x2="882.00" y2="1100.90" stroke="#000" stroke-width="2" />
<line x1="1467.30" y1="1100.90" x2="1457.30" y2="1100.90" stroke="#000" stroke-width="2" />
<line x1="1080.36" y1="1274.00" x2="1080.36" y2="1268.50" stroke="#000" stroke-width="2" />
<line x1="1080.36" y1="697.00" x2="1080.36" y2="702.50" stroke="#000" stroke-width="2" />
<line x1="872.00" y1="1072.05" x2="877.50" y2="1072.05" stroke="#000" stroke-width="2" />
<line x1="1467.30" y1="1072.05" x2="1461.80" y2="1072.05" stroke="#000" stroke-width="2" />
<line x1="1110.12" y1="1274.00" x2="1110.12" y2="1264.00" stroke="#000" stroke-width="2" />
<line x1="1110.12" y1="697.00" x2="1110.12" y2="707.00" stroke="#000" stroke-width="2" />
<line x1="872.00" y1="1043.20" x2="882.00" y2="1043.20" stroke="#000" stroke-width="2" />
<line x1="1467.30" y1="1043.20" x2="1457.30" y2="1043.20" stroke="#000" stroke-width="2" />
<line x1="1139.88" y1="1274.00" x2="1139.88" y2="1268.50" stroke="#000" stroke-width="2" />
<line x1="1139.88" y1="697.00" x2="1139.88" y2="702.50" stroke="#000" stroke-width="2" />
<line x1="872.00" y1="1014.35" x2="877.50" y2="1014.35" stroke="#000" stroke-width="2" />
<line x1="1467.30" y1="1014.35" x2="1461.80" y2="1014.35" stroke="#000" stroke-width="2" />
<line x1="1169.65" y1="1274.00" x2="1169.65" y2="1264.00" stroke="#000" stroke-width="2" />
<line x1="1169.65" y1="697.00" x2="1169.65" y2="707.00" stroke="#000" stroke-width="2" />
<line x1="872.00" y1="985.50" x2="882.00" y2="985.50" stroke="#000" stroke-width="2" />
<line x1="1467.30" y1="985.50" x2="1457.30" y2="985.50" stroke="#000" stroke-width="2" />
<line x1="1199.41" y1="1274.00" x2="1199.41" y2="1268.50" stroke="#000" stroke-width="2" />
<line x1="1199.41" y1="697.00" x2="1199.41" y2="702.50" stroke="#000" stroke-width="2" />
<line x1="872.00" y1="956.65" x2="877.50" y2="956.65" stroke="#000" stroke-width="2" />
<line x1="1467.30" y1="956.65" x2="1461.80" y2="956.65" stroke="#000" stroke-width="2" />
<line x1="1229.18" y1="1274.00" x2="1229.18" y2="1264.00" stroke="#000" stroke-width="2" />
<line x1="1229.18" y1="697.00" x2="1229.18" y2="707.00" stroke="#000" stroke-width="2" />
<line x1="872.00" y1="927.80" x2="882.00" y2="927.80" stroke="#000" stroke-width="2" />
<line x1="1467.30" y1="927.80" x2="1457.30" y2="927.80" stroke="#000" stroke-width="2" />
<line x1="1258.94" y1="1274.00" x2="1258.94" y2="1268.50" stroke="#000" stroke-width="2" />
<line x1="1258.94" y1="697.00" x2="1258.94" y2="702.50" stroke="#000" stroke-width="2" />
<line x1="872.00" y1="898.95" x2="877.50" y2="898.95" stroke="#000" stroke-width="2" />
<line x1="1467.30" y1="898.95" x2="1461.80" y2="898.95" stroke="#000" stroke-width="2" />
<line x1="1288.71" y1="1274.00" x2="1288.71" y2="1264.00" stroke="#000" stroke-width="2" />
<line x1="1288.71" y1="697.00" x2="1288.71" y2="707.00" stroke="#000" stroke-width="2" />
<line x1="872.00" y1="870.10" x2="882.00" y2="870.10" stroke="#000" stroke-width="2" />
<line x1="1467.30" y1="870.10" x2="1457.30" y2="870.10" stroke="#000" stroke-width="2" />
<line x1="1318.47" y1="1274.00" x2="1318.47" y2="1268.50" stroke="#000" stroke-width="2" />
<line x1="1318.47" y1="697.00" x2="1318.47" y2="702.50" stroke="#000" stroke-width="2" />
<line x1="872.00" y1="841.25" x2="877.50" y2="841.25" stroke="#000" stroke-width="2" />
<line x1="1467.30" y1="841.25" x2="1461.80" y2="841.25" stroke="#000" stroke-width="2" />
<line x1="1348.24" y1="1274.00" x2="1348.24" y2="1264.00" stroke="#000" stroke-width="2" />
<line x1="1348.24" y1="697.00" x2="1348.24" y2="707.00" stroke="#000" stroke-width="2" />
<line x1="872.00" y1="812.40" x2="882.00" y2="812.40" stroke="#000" stroke-width="2" />
<line x1="1467.30" y1="812.40" x2="1457.30" y2="812.40" stroke="#000" stroke-width="2" />
<line x1="1378.00" y1="1274.00" x2="1378.00" y2="1268.50" stroke="#000" stroke-width="2" />
<line x1="1378.00" y1="697.00" x2="1378.00" y2="702.50" stroke="#000" stroke-width="2" />
<line x1="872.00" y1="783.55" x2="877.50" y2="783.55" stroke="#000" stroke-width="2" />
<line x1="1467.30" y1="783.55" x2="1461.80" y2="783.55" stroke="#000" stroke-width="2" />
<line x1="1407.77" y1="1274.00" x2="1407.77" y2="1264.00" stroke="#000" stroke-width="2" />
<line x1="1407.77" y1="697.00" x2="1407.77" y2="707.00" stroke="#000" stroke-width="2" />
<line x1="872.00" y1="754.70" x2="882.00" y2="754.70" stroke="#000" stroke-width="2" />
<line x1="1467.30" y1="754.70" x2="1457.30" y2="754.70" stroke="#000" stroke-width="2" />
<line x1="1437.53" y1="1274.00" x2="1437.53" y2="1268.50" stroke="#000" stroke-width="2" />
<line x1="1437.53" y1="697.00" x2="1437.53" y2="702.50" stroke="#000" stroke-width="2" />
<line x1="872.00" y1="725.85" x2="877.50" y2="725.85" stroke="#000" stroke-width="2" />
<line x1="1467.30" y1="725.85" x2="1461.80" y2="725.85" stroke="#000" stroke-width="2" />
<text x="0" y="0" font-family="Liberation Sans" font-size="34" font-weight="bold" fill="#000" transform="matrix(0.9652 0 0 1.0174 6.53 45.00)">A</text>
<text x="0" y="0" font-family="Liberation Sans" font-size="34" font-weight="bold" fill="#000" transform="matrix(0.9524 0 0 1.0174 785.30 44.80)">B</text>
<text x="0" y="0" font-family="Liberation Sans" font-size="34" font-weight="bold" fill="#000" transform="matrix(0.9913 0 0 1.0130 7.01 677.50)">C</text>
<text x="0" y="0" font-family="Liberation Sans" font-size="34" font-weight="bold" fill="#000" transform="matrix(1.0476 0 0 0.9913 784.60 677.00)">D</text>
<text x="0" y="0" font-family="Liberation Sans" font-size="34" fill="#000" transform="matrix(0.5800 0 0 1.0026 571.92 38.78)">35.9 fb<tspan dy="-15" font-size="24">-1</tspan><tspan dy="15"> (13 TeV)</tspan></text>
<text x="0" y="0" font-family="Liberation Sans" font-size="49.5" font-weight="bold" fill="#000" transform="matrix(0.5387 0 0 1.0000 126.32 122.80)">CMS</text>
<text x="0" y="0" font-family="Liberation Sans" font-size="24" fill="#000" transform="matrix(0.6604 0 0 1.0000 524.44 109.30)">σ(pp</text>
<text x="0" y="0" font-family="Liberation Serif" font-size="24" fill="#000" transform="matrix(0.7269 0 0 1.0000 572.07 110.00)">ΣΣ</text>
<text x="0" y="0" font-family="Liberation Sans" font-size="24" fill="#000" transform="matrix(0.6561 0 0 1.0000 593.60 109.30)">) with unc.</text>
<text x="0" y="0" font-family="Liberation Sans" font-size="24" fill="#000" transform="matrix(0.6052 0 0 1.0000 504.89 170.80)">95% CL upper limits</text>
<text x="0" y="0" font-family="Liberation Sans" font-size="24" fill="#000" transform="matrix(0.6020 0 0 1.0000 558.30 211.30)">Observed</text>
<text x="0" y="0" font-family="Liberation Sans" font-size="24" fill="#000" transform="matrix(0.6124 0 0 1.0000 557.68 251.00)">Expected</text>
<text x="0" y="0" font-family="Liberation Sans" font-size="24" fill="#000" transform="matrix(0.6138 0 0 1.0000 557.67 291.80)">Expected ± 1 s.d.</text>
<text x="0" y="0" font-family="Liberation Sans" font-size="24" fill="#000" transform="matrix(0.6138 0 0 1.0000 557.67 331.00)">Expected ± 2 s.d.</text>
<text x="0" y="0" font-family="Liberation Sans" font-size="29.3" fill="#000" transform="matrix(0.5617 0 0 1.0000 96.90 583.20)">200</text>
<text x="0" y="0" font-family="Liberation Sans" font-size="29.3" fill="#000" transform="matrix(0.5617 0 0 1.0000 169.80 583.20)">300</text>
<text x="0" y="0" font-family="Liberation Sans" font-size="29.3" fill="#000" transform="matrix(0.5617 0 0 1.0000 242.69 583.20)">400</text>
<text x="0" y="0" font-family="Liberation Sans" font-size="29.3" fill="#000" transform="matrix(0.5617 0 0 1.0000 315.59 583.20)">500</text>
<text x="0" y="0" font-family="Liberation Sans" font-size="29.3" fill="#000" transform="matrix(0.5617 0 0 1.0000 388.49 583.20)">600</text>
<text x="0" y="0" font-family="Liberation Sans" font-size="29.3" fill="#000" transform="matrix(0.5617 0 0 1.0000 461.39 583.20)">700</text>
<text x="0" y="0" font-family="Liberation Sans" font-size="29.3" fill="#000" transform="matrix(0.5617 0 0 1.0000 534.28 583.20)">800</text>
<text x="0" y="0" font-family="Liberation Sans" font-size="29.3" fill="#000" transform="matrix(0.5617 0 0 1.0000 607.18 583.20)">900</text>
<text x="0" y="0" font-family="Liberation Sans" font-size="29.3" fill="#000" transform="matrix(0.5726 0 0 1.0000 674.95 583.20)">1000</text>
<text x="0" y="0" font-family="Liberation Sans" font-size="29.3" fill="#000" transform="matrix(0.5400 0 0 1.0000 51.42 85.80)">10</text>
<text x="0" y="0" font-family="Liberation Sans" font-size="29.3" fill="#000" transform="matrix(0.5154 0 0 1.0000 62.77 205.60)">1</text>
<text x="0" y="0" font-family="Liberation Sans" font-size="29.3" fill="#000" transform="matrix(0.5312 0 0 1.0000 43.24 325.40)">10<tspan dy="-9" font-size="21">-1</tspan></text>
<text x="0" y="0" font-family="Liberation Sans" font-size="29.3" fill="#000" transform="matrix(0.5708 0 0 1.0000 41.26 445.20)">10<tspan dy="-9" font-size="21">-2</tspan></text>
<text x="0" y="0" font-family="Liberation Sans" font-size="29.3" fill="#000" transform="matrix(0.5687 0 0 1.0000 41.36 565.00)">10<tspan dy="-9" font-size="21">-3</tspan></text>
<text x="0" y="0" font-family="Liberation Sans" font-size="32.6" fill="#000" transform="matrix(0.5683 0 0 1.0000 344.46 622.00)">Σ Mass (GeV)</text>
<text x="0" y="0" font-family="Liberation Sans" font-size="19.5" fill="#000" transform="translate(28.20 300.80) rotate(-90.000) matrix(1.6860 0 0 0.8737 -43.84 4.81)"><tspan dy="2.2">σ</tspan><tspan dy="-2.2">  (pb)</tspan></text>
<text x="0" y="0" font-family="Liberation Serif" font-size="40.5" fill="#000" transform="matrix(1.0157 0 0 1.0000 835.35 94.90)">10<tspan dy="-17" font-size="27">4</tspan></text>
<text x="0" y="0" font-family="Liberation Serif" font-size="40.5" fill="#000" transform="matrix(1.0780 0 0 1.0000 833.07 159.80)">10<tspan dy="-17" font-size="27">3</tspan></text>
<text x="0" y="0" font-family="Liberation Serif" font-size="40.5" fill="#000" transform="matrix(1.0780 0 0 1.0000 833.07 224.70)">10<tspan dy="-17" font-size="27">2</tspan></text>
<text x="0" y="0" font-family="Liberation Serif" font-size="40.5" fill="#000" transform="matrix(1.0034 0 0 1.0000 828.99 419.40)">10<tspan dy="-17" font-size="27">-1</tspan></text>
<text x="0" y="0" font-family="Liberation Serif" font-size="40.5" fill="#000" transform="matrix(1.0119 0 0 1.0000 827.46 484.30)">10<tspan dy="-17" font-size="27">-2</tspan></text>
<text x="0" y="0" font-family="Liberation Serif" font-size="40.5" fill="#000" transform="matrix(1.0034 0 0 1.0000 827.99 549.20)">10<tspan dy="-17" font-size="27">-3</tspan></text>
<text x="0" y="0" font-family="Liberation Serif" font-size="40.5" fill="#000" transform="matrix(1.0333 0 0 1.0000 850.30 289.60)">10</text>
<text x="0" y="0" font-family="Liberation Serif" font-size="40.5" fill="#000" transform="matrix(0.7667 0 0 1.0000 872.40 354.50)">1</text>
<text x="0" y="0" font-family="Liberation Serif" font-size="40.5" fill="#000" transform="matrix(1.0444 0 0 1.0000 889.76 568.50)">0</text>
<text x="0" y="0" font-family="Liberation Serif" font-size="40.5" fill="#000" transform="matrix(1.1750 0 0 1.0000 996.05 568.50)">2</text>
<text x="0" y="0" font-family="Liberation Serif" font-size="40.5" fill="#000" transform="matrix(0.9895 0 0 1.0000 1105.01 568.50)">4</text>
<text x="0" y="0" font-family="Liberation Serif" font-size="40.5" fill="#000" transform="matrix(1.1059 0 0 1.0000 1211.39 568.50)">6</text>
<text x="0" y="0" font-family="Liberation Serif" font-size="40.5" fill="#000" transform="matrix(1.0444 0 0 1.0000 1320.16 568.50)">8</text>
<text x="0" y="0" font-family="Liberation Serif" font-size="40.5" fill="#000" transform="matrix(1.0694 0 0 1.0000 1415.74 568.50)">10</text>
<text x="0" y="0" font-family="Liberation Serif" font-size="42.3" fill="#000" transform="matrix(1.0357 0 0 1.0000 1113.66 604.70)">m<tspan dy="12" font-size="28">T</tspan><tspan dy="-12"> [TeV]</tspan></text>
<text x="0" y="0" font-family="Liberation Serif" font-size="44" fill="#000" transform="translate(803.65 291.60) rotate(-90.000) matrix(0.9769 0 0 0.9313 -147.03 13.97)">Luminosity [fb<tspan dy="-21" font-size="28">-1</tspan><tspan dy="21">]</tspan></text>
<text x="0" y="0" font-family="Liberation Serif" font-size="23" fill="#000" transform="matrix(1.1440 0 0 1.0000 1006.86 106.50)">3 ab<tspan dy="-9" font-size="16">-1</tspan></text>
<text x="0" y="0" font-family="Liberation Serif" font-size="23.5" fill="#000" transform="matrix(1.1069 0 0 1.0000 953.19 172.00)">300 fb<tspan dy="-9" font-size="16">-1</tspan></text>
<text x="0" y="0" font-family="Liberation Serif" font-size="25.7" fill="#000" transform="matrix(1.1040 0 0 1.0000 958.80 269.50)">5σ</text>
<text x="0" y="0" font-family="Liberation Serif" font-size="25.7" fill="#000" transform="matrix(1.1520 0 0 1.0000 968.95 380.90)">2σ</text>
<text x="0" y="0" font-family="Liberation Serif" font-size="38" fill="#000" transform="matrix(0.9992 0 0 1.0000 1060.90 421.20)">Type III Seesaw</text>
<text x="0" y="0" font-family="Liberation Serif" font-size="38" fill="#000" transform="matrix(0.9913 0 0 1.0000 1060.91 472.70)">T<tspan dy="-15" font-size="26">0</tspan><tspan dy="15"> T</tspan><tspan dy="-15" font-size="26">±</tspan><tspan dy="15"> + T</tspan><tspan dy="-15" font-size="26">+</tspan><tspan dy="15">T</tspan><tspan dy="-15" font-size="26">-</tspan><tspan dy="15"> at 100 TeV</tspan></text>
<text x="0" y="0" font-family="Liberation Sans" font-size="29" fill="#000" transform="matrix(1.0034 0 0 1.0000 376.69 687.30)">Majorana</text>
<text x="0" y="0" font-family="Liberation Sans" font-size="29" fill="#000" transform="matrix(0.9941 0 0 1.0000 1100.11 686.40)">Majorana</text>
<text x="0" y="0" font-family="Liberation Sans" font-size="24.5" fill="#000" transform="matrix(0.9875 0 0 1.0000 98.41 1279.60)">0.0</text>
<text x="0" y="0" font-family="Liberation Sans" font-size="26.3" fill="#000" transform="matrix(0.9886 0 0 1.0000 123.51 1304.30)">0.0</text>
<text x="0" y="0" font-family="Liberation Sans" font-size="26.3" fill="#000" transform="matrix(0.9943 0 0 1.0000 824.41 1281.80)">0.0</text>
<text x="0" y="0" font-family="Liberation Sans" font-size="26.3" fill="#000" transform="matrix(0.9886 0 0 1.0000 853.71 1306.20)">0.0</text>
<text x="0" y="0" font-family="Liberation Sans" font-size="24.5" fill="#000" transform="matrix(0.9875 0 0 1.0000 98.41 1222.18)">0.1</text>
<text x="0" y="0" font-family="Liberation Sans" font-size="26.3" fill="#000" transform="matrix(0.9886 0 0 1.0000 183.20 1304.30)">0.1</text>
<text x="0" y="0" font-family="Liberation Sans" font-size="26.3" fill="#000" transform="matrix(0.9943 0 0 1.0000 824.41 1224.10)">0.1</text>
<text x="0" y="0" font-family="Liberation Sans" font-size="26.3" fill="#000" transform="matrix(0.9886 0 0 1.0000 913.24 1306.20)">0.1</text>
<text x="0" y="0" font-family="Liberation Sans" font-size="24.5" fill="#000" transform="matrix(0.9875 0 0 1.0000 98.41 1164.76)">0.2</text>
<text x="0" y="0" font-family="Liberation Sans" font-size="26.3" fill="#000" transform="matrix(0.9886 0 0 1.0000 242.89 1304.30)">0.2</text>
<text x="0" y="0" font-family="Liberation Sans" font-size="26.3" fill="#000" transform="matrix(0.9943 0 0 1.0000 824.41 1166.40)">0.2</text>
<text x="0" y="0" font-family="Liberation Sans" font-size="26.3" fill="#000" transform="matrix(0.9886 0 0 1.0000 972.77 1306.20)">0.2</text>
<text x="0" y="0" font-family="Liberation Sans" font-size="24.5" fill="#000" transform="matrix(0.9875 0 0 1.0000 98.41 1107.34)">0.3</text>
<text x="0" y="0" font-family="Liberation Sans" font-size="26.3" fill="#000" transform="matrix(0.9886 0 0 1.0000 302.58 1304.30)">0.3</text>
<text x="0" y="0" font-family="Liberation Sans" font-size="26.3" fill="#000" transform="matrix(0.9943 0 0 1.0000 824.41 1108.70)">0.3</text>
<text x="0" y="0" font-family="Liberation Sans" font-size="26.3" fill="#000" transform="matrix(0.9886 0 0 1.0000 1032.30 1306.20)">0.3</text>
<text x="0" y="0" font-family="Liberation Sans" font-size="24.5" fill="#000" transform="matrix(0.9576 0 0 1.0000 98.44 1049.92)">0.4</text>
<text x="0" y="0" font-family="Liberation Sans" font-size="26.3" fill="#000" transform="matrix(0.9886 0 0 1.0000 362.27 1304.30)">0.4</text>
<text x="0" y="0" font-family="Liberation Sans" font-size="26.3" fill="#000" transform="matrix(0.9943 0 0 1.0000 824.41 1051.00)">0.4</text>
<text x="0" y="0" font-family="Liberation Sans" font-size="26.3" fill="#000" transform="matrix(0.9886 0 0 1.0000 1091.83 1306.20)">0.4</text>
<text x="0" y="0" font-family="Liberation Sans" font-size="24.5" fill="#000" transform="matrix(0.9875 0 0 1.0000 98.41 992.50)">0.5</text>
<text x="0" y="0" font-family="Liberation Sans" font-size="26.3" fill="#000" transform="matrix(0.9886 0 0 1.0000 421.96 1304.30)">0.5</text>
<text x="0" y="0" font-family="Liberation Sans" font-size="26.3" fill="#000" transform="matrix(0.9943 0 0 1.0000 824.41 993.30)">0.5</text>
<text x="0" y="0" font-family="Liberation Sans" font-size="26.3" fill="#000" transform="matrix(0.9886 0 0 1.0000 1151.36 1306.20)">0.5</text>
<text x="0" y="0" font-family="Liberation Sans" font-size="24.5" fill="#000" transform="matrix(0.9875 0 0 1.0000 98.41 935.08)">0.6</text>
<text x="0" y="0" font-family="Liberation Sans" font-size="26.3" fill="#000" transform="matrix(0.9886 0 0 1.0000 481.65 1304.30)">0.6</text>
<text x="0" y="0" font-family="Liberation Sans" font-size="26.3" fill="#000" transform="matrix(0.9943 0 0 1.0000 824.41 935.60)">0.6</text>
<text x="0" y="0" font-family="Liberation Sans" font-size="26.3" fill="#000" transform="matrix(0.9886 0 0 1.0000 1210.89 1306.20)">0.6</text>
<text x="0" y="0" font-family="Liberation Sans" font-size="24.5" fill="#000" transform="matrix(0.9875 0 0 1.0000 98.41 877.66)">0.7</text>
<text x="0" y="0" font-family="Liberation Sans" font-size="26.3" fill="#000" transform="matrix(0.9886 0 0 1.0000 541.34 1304.30)">0.7</text>
<text x="0" y="0" font-family="Liberation Sans" font-size="26.3" fill="#000" transform="matrix(0.9943 0 0 1.0000 824.41 877.90)">0.7</text>
<text x="0" y="0" font-family="Liberation Sans" font-size="26.3" fill="#000" transform="matrix(0.9886 0 0 1.0000 1270.42 1306.20)">0.7</text>
<text x="0" y="0" font-family="Liberation Sans" font-size="24.5" fill="#000" transform="matrix(0.9875 0 0 1.0000 98.41 820.24)">0.8</text>
<text x="0" y="0" font-family="Liberation Sans" font-size="26.3" fill="#000" transform="matrix(0.9886 0 0 1.0000 601.03 1304.30)">0.8</text>
<text x="0" y="0" font-family="Liberation Sans" font-size="26.3" fill="#000" transform="matrix(0.9943 0 0 1.0000 824.41 820.20)">0.8</text>
<text x="0" y="0" font-family="Liberation Sans" font-size="26.3" fill="#000" transform="matrix(0.9886 0 0 1.0000 1329.95 1306.20)">0.8</text>
<text x="0" y="0" font-family="Liberation Sans" font-size="24.5" fill="#000" transform="matrix(0.9875 0 0 1.0000 98.41 762.82)">0.9</text>
<text x="0" y="0" font-family="Liberation Sans" font-size="26.3" fill="#000" transform="matrix(0.9886 0 0 1.0000 660.72 1304.30)">0.9</text>
<text x="0" y="0" font-family="Liberation Sans" font-size="26.3" fill="#000" transform="matrix(0.9943 0 0 1.0000 824.41 762.50)">0.9</text>
<text x="0" y="0" font-family="Liberation Sans" font-size="26.3" fill="#000" transform="matrix(0.9886 0 0 1.0000 1389.48 1306.20)">0.9</text>
<text x="0" y="0" font-family="Liberation Sans" font-size="24.5" fill="#000" transform="matrix(1.0194 0 0 1.0000 97.36 705.40)">1.0</text>
<text x="0" y="0" font-family="Liberation Sans" font-size="26.3" fill="#000" transform="matrix(1.0176 0 0 1.0000 719.36 1304.30)">1.0</text>
<text x="0" y="0" font-family="Liberation Sans" font-size="26.3" fill="#000" transform="matrix(1.0235 0 0 1.0000 823.35 704.80)">1.0</text>
<text x="0" y="0" font-family="Liberation Sans" font-size="26.3" fill="#000" transform="matrix(1.0176 0 0 1.0000 1447.96 1306.20)">1.0</text>
<text x="0" y="0" font-family="Liberation Sans" font-size="27.4" fill="#000" transform="translate(630.60 809.00) rotate(40.300) matrix(1.0159 0 0 1.0159 -129.53 7.11)">Excluded by unitarity</text>
<text x="0" y="0" font-family="Liberation Sans" font-size="27.4" fill="#000" transform="translate(1345.50 806.50) rotate(40.000) matrix(1.0319 0 0 1.0319 -131.56 7.22)">Excluded by unitarity</text>
<text x="0" y="0" font-family="Liberation Serif" font-size="38" font-style="italic" fill="#ff0000" transform="translate(551.38 816.71) rotate(40.000) matrix(1.0625 0 0 0.9667 -9.56 8.70)">ν</text>
<text x="0" y="0" font-family="Liberation Serif" font-size="26" font-style="italic" fill="#ff0000" transform="translate(555.78 838.22) rotate(40.000) matrix(1.1333 0 0 1.0083 -6.23 6.05)">τ</text>
<text x="0" y="0" font-family="Liberation Sans" font-size="22" fill="#ff0000" transform="translate(569.23 849.50) rotate(40.000) matrix(1.0083 0 0 1.0333 -8.07 7.75)">N</text>
<text x="0" y="0" font-family="Liberation Sans" font-size="22" fill="#ff0000" transform="translate(592.04 856.38) rotate(40.000) matrix(1.1545 0 0 1.0143 -7.50 7.61)">=</text>
<text x="0" y="0" font-family="Liberation Sans" font-size="22" fill="#ff0000" transform="translate(607.21 869.96) rotate(40.000) matrix(1.0000 0 0 1.0333 -6.50 7.75)">0</text>
<text x="0" y="0" font-family="Liberation Serif" font-size="38" font-style="italic" fill="#ff0000" transform="translate(1290.14 821.27) rotate(40.000) matrix(1.0375 0 0 0.9611 -9.34 8.65)">ν</text>
<text x="0" y="0" font-family="Liberation Serif" font-size="26" font-style="italic" fill="#ff0000" transform="translate(1290.40 841.27) rotate(40.000) matrix(1.0250 0 0 1.0000 -6.15 3.50)">μ</text>
<text x="0" y="0" font-family="Liberation Sans" font-size="22" fill="#ff0000" transform="translate(1303.28 852.21) rotate(40.000) matrix(1.0083 0 0 0.9600 -8.07 7.20)">N</text>
<text x="0" y="0" font-family="Liberation Sans" font-size="22" fill="#ff0000" transform="translate(1325.68 860.43) rotate(40.000) matrix(1.1182 0 0 1.0000 -7.27 7.50)">=</text>
<text x="0" y="0" font-family="Liberation Sans" font-size="22" fill="#ff0000" transform="translate(1339.16 875.79) rotate(40.000) matrix(1.0000 0 0 1.0333 -6.50 7.75)">0</text>
<text x="0" y="0" font-family="Liberation Sans" font-size="24.5" fill="#007f00" transform="translate(531.00 904.40) rotate(40.000) matrix(0.9615 0 0 0.9615 -19.71 8.17)">200</text>
<text x="0" y="0" font-family="Liberation Sans" font-size="24.5" fill="#ff00ff" transform="translate(473.70 967.30) rotate(43.000) matrix(0.9868 0 0 0.9868 -20.72 8.39)">180</text>
<text x="0" y="0" font-family="Liberation Sans" font-size="24.5" fill="#0000ff" transform="translate(408.00 1031.00) rotate(46.000) matrix(0.9868 0 0 0.9868 -20.72 8.39)">160</text>
<text x="0" y="0" font-family="Liberation Sans" font-size="24.5" fill="#800000" transform="translate(346.60 1091.00) rotate(46.000) matrix(0.9868 0 0 0.9868 -20.72 8.39)">140</text>
<text x="0" y="0" font-family="Liberation Sans" font-size="24.5" fill="#000000" transform="translate(276.40 1145.70) rotate(47.000) matrix(0.9868 0 0 0.9868 -20.72 8.39)">120</text>
<text x="0" y="0" font-family="Liberation Sans" font-size="24.5" fill="#00ff00" transform="translate(198.80 1221.50) rotate(48.000) matrix(0.9868 0 0 0.9868 -20.72 8.39)">100</text>
<text x="0" y="0" font-family="Liberation Sans" font-size="24.5" fill="#00ff00" transform="matrix(1.0079 0 0 1.0000 900.68 729.00)">100</text>
<text x="0" y="0" font-family="Liberation Sans" font-size="24.5" fill="#000000" transform="matrix(1.0105 0 0 1.0000 941.18 766.40)">120</text>
<text x="0" y="0" font-family="Liberation Sans" font-size="24.5" fill="#800000" transform="matrix(0.9842 0 0 1.0000 988.13 804.60)">140</text>
<text x="0" y="0" font-family="Liberation Sans" font-size="24.5" fill="#0000ff" transform="matrix(0.9526 0 0 1.0000 1031.99 868.80)">160</text>
<text x="0" y="0" font-family="Liberation Sans" font-size="24.5" fill="#ff00ff" transform="matrix(1.0105 0 0 1.0000 1101.58 974.40)">180</text>
<text x="0" y="0" font-family="Liberation Sans" font-size="24.5" fill="#007f00" transform="matrix(1.0179 0 0 1.0000 1217.58 1143.80)">200</text>
<text x="0" y="0" font-family="Liberation Serif" font-size="38" font-style="italic" fill="#000000" transform="translate(62.20 1004.60) rotate(-90.000) matrix(1.0500 0 0 0.9556 -9.45 8.60)">ν</text>
<text x="0" y="0" font-family="Liberation Serif" font-size="26" fill="#000000" transform="translate(80.55 987.00) rotate(-90.000) matrix(1.2364 0 0 1.0059 -9.27 3.52)">μ</text>
<text x="0" y="0" font-family="Liberation Serif" font-size="22" fill="#000000" transform="translate(77.15 973.40) rotate(-90.000) matrix(1.0143 0 0 0.9929 -8.11 6.95)">N</text>
<text x="0" y="0" font-family="Liberation Serif" font-size="38" font-style="italic" fill="#000000" transform="translate(790.70 1006.70) rotate(-90.000) matrix(1.0375 0 0 0.9889 -9.34 8.90)">ν</text>
<text x="0" y="0" font-family="Liberation Serif" font-size="26" fill="#000000" transform="translate(805.30 991.00) rotate(-90.000) matrix(1.1556 0 0 1.1333 -6.36 6.80)">τ</text>
<text x="0" y="0" font-family="Liberation Serif" font-size="22" fill="#000000" transform="translate(804.20 977.85) rotate(-90.000) matrix(0.9214 0 0 1.0286 -7.37 7.20)">N</text>
<text x="0" y="0" font-family="Liberation Serif" font-size="38" font-style="italic" fill="#000000" transform="translate(433.20 1323.80) rotate(0.000) matrix(1.0500 0 0 0.9556 -9.45 8.60)">ν</text>
<text x="0" y="0" font-family="Liberation Serif" font-size="30" font-style="italic" fill="#000000" transform="translate(447.80 1338.80) rotate(0.000) matrix(1.0000 0 0 0.9857 -7.00 6.90)">e</text>
<text x="0" y="0" font-family="Liberation Serif" font-size="22" fill="#000000" transform="translate(461.55 1338.40) rotate(0.000) matrix(1.0357 0 0 0.9857 -8.29 6.90)">N</text>
<text x="0" y="0" font-family="Liberation Serif" font-size="38" font-style="italic" fill="#000000" transform="translate(1159.60 1323.80) rotate(0.000) matrix(1.0500 0 0 0.9889 -9.45 8.90)">ν</text>
<text x="0" y="0" font-family="Liberation Serif" font-size="30" font-style="italic" fill="#000000" transform="translate(1175.00 1338.70) rotate(0.000) matrix(1.0167 0 0 1.0000 -7.12 7.00)">e</text>
<text x="0" y="0" font-family="Liberation Serif" font-size="22" fill="#000000" transform="translate(1188.30 1338.25) rotate(0.000) matrix(1.0286 0 0 1.0357 -8.23 7.25)">N</text>
</svg></body></html>
